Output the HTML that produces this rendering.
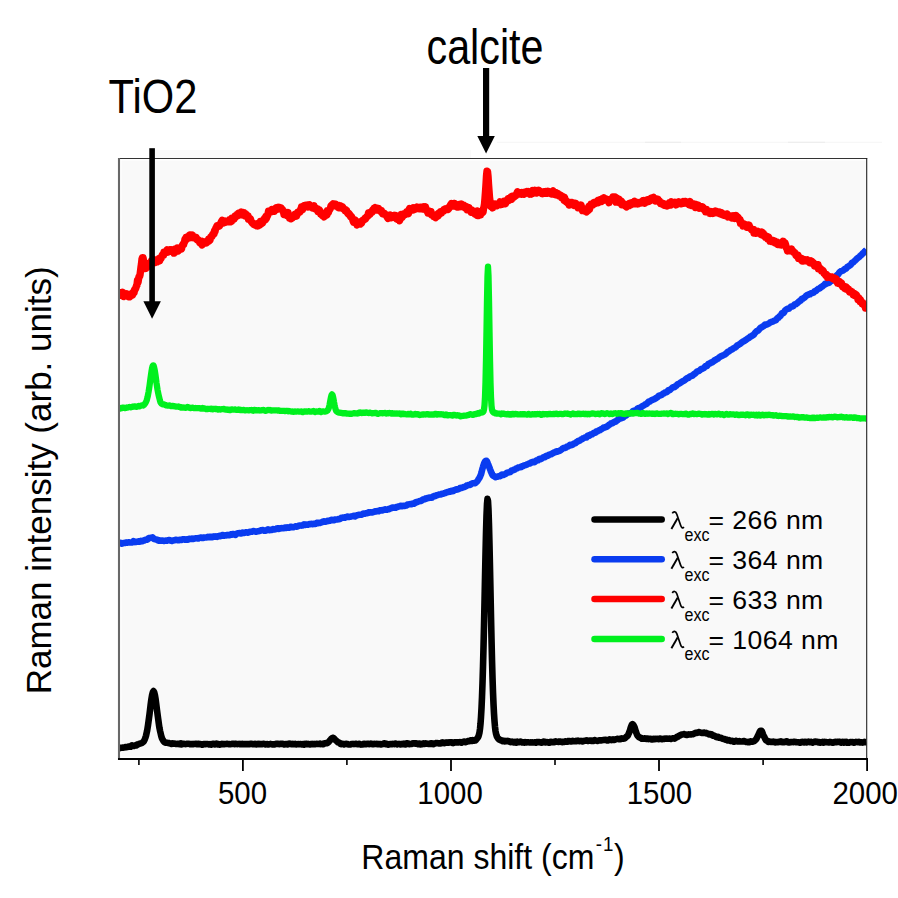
<!DOCTYPE html>
<html><head><meta charset="utf-8"><style>
html,body{margin:0;padding:0;background:#fff;width:898px;height:898px;overflow:hidden}
svg{display:block}
text{font-family:"Liberation Sans",sans-serif}
</style></head><body>
<svg width="898" height="898" viewBox="0 0 898 898">
<rect x="0" y="0" width="898" height="898" fill="#fff"/>
<rect x="155" y="150" width="316" height="8" fill="#fafafa"/>
<line x1="497" y1="142.3" x2="882" y2="142.3" stroke="#f5f5f5" stroke-width="1"/>
<line x1="645" y1="142.3" x2="681" y2="142.3" stroke="#ececec" stroke-width="1"/>
<line x1="788" y1="142.3" x2="825" y2="142.3" stroke="#ececec" stroke-width="1"/>
<defs><clipPath id="pc"><rect x="119" y="150" width="747.5" height="609"/></clipPath></defs>
<rect x="121.5" y="160.5" width="744.3" height="596" fill="#f9f9f9"/>
<g clip-path="url(#pc)">
<polyline points="119.5,748.1 120.0,748.1 120.5,747.8 121.0,747.7 121.5,747.7 122.0,747.8 122.5,747.6 123.0,747.6 123.5,747.6 124.0,747.5 124.5,747.5 125.0,747.3 125.5,747.1 126.0,747.0 126.5,747.1 127.0,747.1 127.5,747.0 128.0,746.7 128.5,746.6 129.0,746.6 129.5,746.6 130.0,746.7 130.5,746.8 131.0,746.3 131.5,745.6 132.0,745.4 132.5,745.6 133.0,745.8 133.5,745.7 134.0,746.0 134.5,745.7 135.0,745.4 135.5,745.3 136.0,745.5 136.5,745.4 137.0,744.9 137.5,744.4 138.0,744.2 138.5,744.2 139.0,744.0 139.5,743.7 140.0,743.5 140.5,743.4 141.0,743.2 141.5,743.1 142.0,742.9 142.5,742.5 143.0,742.1 143.5,741.7 144.0,741.1 144.5,739.9 145.0,738.7 145.5,737.3 146.0,735.8 146.5,733.5 147.0,731.3 147.5,728.5 148.0,725.3 148.5,721.6 149.0,718.0 149.5,714.2 150.0,710.1 150.5,705.8 151.0,701.9 151.5,698.5 152.0,695.6 152.5,693.4 153.0,691.8 153.5,691.1 154.0,691.8 154.5,693.5 155.0,695.6 155.5,698.5 156.0,702.2 156.5,706.2 157.0,710.1 157.5,713.9 158.0,717.6 158.5,721.3 159.0,725.0 159.5,728.2 160.0,730.7 160.5,732.7 161.0,734.9 161.5,736.9 162.0,738.4 162.5,739.3 163.0,740.2 163.5,741.1 164.0,741.7 164.5,742.2 165.0,742.4 165.5,742.5 166.0,742.8 166.5,742.7 167.0,742.7 167.5,742.7 168.0,742.9 168.5,743.0 169.0,743.1 169.5,743.4 170.0,743.4 170.5,743.6 171.0,743.7 171.5,743.9 172.0,743.7 172.5,743.3 173.0,743.5 173.5,743.7 174.0,743.8 174.5,743.6 175.0,743.6 175.5,743.9 176.0,743.9 176.5,743.9 177.0,743.7 177.5,743.8 178.0,743.7 178.5,743.8 179.0,744.1 179.5,744.1 180.0,743.5 180.5,743.4 181.0,744.1 181.5,744.4 182.0,743.9 182.5,743.7 183.0,743.8 183.5,743.8 184.0,743.7 184.5,743.9 185.0,744.0 185.5,744.1 186.0,744.0 186.5,743.9 187.0,743.8 187.5,743.7 188.0,743.8 188.5,743.8 189.0,743.7 189.5,743.9 190.0,744.2 190.5,744.3 191.0,744.1 191.5,744.1 192.0,744.0 192.5,744.1 193.0,744.2 193.5,744.0 194.0,744.0 194.5,744.0 195.0,744.0 195.5,743.7 196.0,743.8 196.5,744.1 197.0,744.2 197.5,744.2 198.0,743.7 198.5,743.8 199.0,744.0 199.5,744.3 200.0,744.1 200.5,744.0 201.0,744.2 201.5,744.4 202.0,744.6 202.5,744.6 203.0,744.4 203.5,744.0 204.0,744.0 204.5,744.1 205.0,744.2 205.5,744.2 206.0,744.0 206.5,744.0 207.0,744.0 207.5,744.0 208.0,744.0 208.5,744.3 209.0,744.5 209.5,744.4 210.0,744.1 210.5,744.4 211.0,744.7 211.5,744.6 212.0,744.0 212.5,743.9 213.0,743.9 213.5,743.9 214.0,743.9 214.5,744.3 215.0,744.5 215.5,744.1 216.0,743.8 216.5,743.6 217.0,744.0 217.5,744.2 218.0,744.4 218.5,744.1 219.0,744.3 219.5,744.6 220.0,744.6 220.5,744.3 221.0,744.0 221.5,744.1 222.0,743.9 222.5,744.2 223.0,744.2 223.5,744.2 224.0,744.1 224.5,744.1 225.0,744.1 225.5,744.0 226.0,744.0 226.5,743.9 227.0,743.9 227.5,743.9 228.0,744.0 228.5,744.1 229.0,744.1 229.5,744.2 230.0,744.2 230.5,744.2 231.0,744.0 231.5,744.0 232.0,743.8 232.5,743.9 233.0,743.9 233.5,743.9 234.0,743.9 234.5,744.2 235.0,744.2 235.5,743.9 236.0,743.8 236.5,744.0 237.0,744.1 237.5,744.1 238.0,744.0 238.5,744.0 239.0,743.9 239.5,744.0 240.0,744.2 240.5,744.0 241.0,744.2 241.5,744.2 242.0,744.1 242.5,743.9 243.0,744.0 243.5,744.2 244.0,744.1 244.5,744.1 245.0,744.1 245.5,744.1 246.0,744.2 246.5,744.1 247.0,744.1 247.5,744.0 248.0,744.1 248.5,744.2 249.0,744.1 249.5,744.1 250.0,743.9 250.5,743.8 251.0,743.7 251.5,743.8 252.0,743.9 252.5,744.0 253.0,744.3 253.5,744.2 254.0,744.0 254.5,744.0 255.0,743.8 255.5,744.2 256.0,744.3 256.5,744.4 257.0,744.0 257.5,744.2 258.0,744.0 258.5,743.9 259.0,744.1 259.5,744.3 260.0,744.2 260.5,744.1 261.0,744.1 261.5,744.1 262.0,744.1 262.5,744.2 263.0,743.9 263.5,743.8 264.0,743.8 264.5,744.1 265.0,744.2 265.5,744.4 266.0,744.3 266.5,744.3 267.0,744.1 267.5,744.1 268.0,744.4 268.5,744.5 269.0,744.3 269.5,744.0 270.0,744.0 270.5,743.9 271.0,744.0 271.5,744.0 272.0,744.3 272.5,744.4 273.0,744.4 273.5,744.3 274.0,744.3 274.5,744.4 275.0,744.3 275.5,744.1 276.0,743.9 276.5,743.9 277.0,743.9 277.5,743.9 278.0,743.7 278.5,744.0 279.0,744.1 279.5,744.2 280.0,743.9 280.5,743.8 281.0,743.9 281.5,743.9 282.0,743.8 282.5,743.8 283.0,743.9 283.5,744.1 284.0,744.4 284.5,744.5 285.0,744.3 285.5,744.0 286.0,744.0 286.5,744.1 287.0,744.3 287.5,744.4 288.0,744.2 288.5,744.0 289.0,743.7 289.5,744.0 290.0,743.9 290.5,743.9 291.0,743.9 291.5,744.2 292.0,744.3 292.5,744.1 293.0,743.9 293.5,744.0 294.0,744.2 294.5,744.0 295.0,743.9 295.5,744.1 296.0,744.4 296.5,744.3 297.0,744.3 297.5,744.1 298.0,744.1 298.5,744.0 299.0,744.2 299.5,744.3 300.0,744.3 300.5,744.1 301.0,744.0 301.5,744.3 302.0,744.4 302.5,744.2 303.0,744.0 303.5,744.1 304.0,744.6 304.5,744.3 305.0,744.0 305.5,743.9 306.0,744.1 306.5,743.9 307.0,743.8 307.5,744.1 308.0,744.2 308.5,744.2 309.0,744.1 309.5,744.4 310.0,744.4 310.5,744.4 311.0,744.1 311.5,744.0 312.0,743.9 312.5,744.2 313.0,744.3 313.5,744.2 314.0,744.1 314.5,744.2 315.0,744.3 315.5,744.1 316.0,743.9 316.5,743.7 317.0,743.7 317.5,743.9 318.0,744.0 318.5,744.0 319.0,743.8 319.5,743.8 320.0,743.6 320.5,744.1 321.0,744.0 321.5,744.0 322.0,744.0 322.5,744.2 323.0,744.3 323.5,744.0 324.0,743.5 324.5,743.3 325.0,743.4 325.5,743.5 326.0,743.1 326.5,743.2 327.0,743.2 327.5,743.0 328.0,742.5 328.5,742.1 329.0,741.6 329.5,740.9 330.0,740.3 330.5,739.8 331.0,739.2 331.5,738.7 332.0,738.3 332.5,737.9 333.0,737.8 333.5,737.9 334.0,738.5 334.5,738.8 335.0,739.5 335.5,740.0 336.0,740.6 336.5,740.8 337.0,741.4 337.5,742.0 338.0,742.3 338.5,742.4 339.0,742.6 339.5,742.9 340.0,743.4 340.5,743.9 341.0,744.2 341.5,744.1 342.0,743.9 342.5,743.8 343.0,743.9 343.5,744.3 344.0,744.5 344.5,744.3 345.0,744.0 345.5,743.8 346.0,743.8 346.5,743.7 347.0,743.9 347.5,744.2 348.0,744.3 348.5,744.4 349.0,744.5 349.5,744.5 350.0,744.5 350.5,744.4 351.0,744.3 351.5,744.1 352.0,744.0 352.5,744.0 353.0,743.9 353.5,744.0 354.0,744.1 354.5,744.0 355.0,743.9 355.5,743.7 356.0,743.8 356.5,743.9 357.0,744.2 357.5,744.2 358.0,744.2 358.5,744.1 359.0,743.9 359.5,743.9 360.0,744.2 360.5,744.3 361.0,744.6 361.5,744.5 362.0,744.5 362.5,744.4 363.0,744.4 363.5,744.0 364.0,743.7 364.5,743.7 365.0,744.0 365.5,744.3 366.0,744.2 366.5,744.0 367.0,744.0 367.5,743.8 368.0,743.7 368.5,743.8 369.0,743.9 369.5,744.1 370.0,744.0 370.5,743.9 371.0,743.5 371.5,743.8 372.0,743.9 372.5,744.1 373.0,744.1 373.5,744.2 374.0,744.0 374.5,743.7 375.0,743.9 375.5,744.0 376.0,743.9 376.5,743.7 377.0,744.0 377.5,744.2 378.0,744.3 378.5,744.0 379.0,744.0 379.5,744.1 380.0,744.0 380.5,744.0 381.0,744.4 381.5,744.5 382.0,744.2 382.5,744.1 383.0,744.0 383.5,743.6 384.0,743.3 384.5,743.4 385.0,743.6 385.5,743.9 386.0,744.1 386.5,743.9 387.0,743.9 387.5,744.2 388.0,744.6 388.5,744.6 389.0,744.3 389.5,744.2 390.0,744.0 390.5,744.0 391.0,744.0 391.5,744.2 392.0,744.2 392.5,744.1 393.0,743.9 393.5,744.0 394.0,744.1 394.5,743.9 395.0,743.6 395.5,743.6 396.0,743.7 396.5,744.1 397.0,744.4 397.5,744.3 398.0,744.1 398.5,744.0 399.0,743.9 399.5,744.0 400.0,744.2 400.5,744.4 401.0,744.2 401.5,744.0 402.0,743.9 402.5,744.2 403.0,744.3 403.5,744.0 404.0,743.7 404.5,744.0 405.0,744.4 405.5,744.4 406.0,744.2 406.5,743.8 407.0,743.3 407.5,743.2 408.0,743.4 408.5,743.8 409.0,744.1 409.5,744.1 410.0,744.1 410.5,744.0 411.0,743.9 411.5,743.9 412.0,743.9 412.5,743.5 413.0,743.2 413.5,743.4 414.0,743.4 414.5,743.3 415.0,743.4 415.5,743.6 416.0,743.4 416.5,743.4 417.0,743.5 417.5,743.9 418.0,744.1 418.5,743.9 419.0,743.5 419.5,743.6 420.0,744.2 420.5,744.4 421.0,744.2 421.5,744.2 422.0,744.2 422.5,744.0 423.0,743.5 423.5,743.4 424.0,743.8 424.5,743.9 425.0,743.8 425.5,743.3 426.0,743.5 426.5,743.6 427.0,743.8 427.5,743.8 428.0,743.8 428.5,743.9 429.0,744.0 429.5,744.0 430.0,743.9 430.5,743.5 431.0,743.2 431.5,743.3 432.0,743.4 432.5,743.8 433.0,744.1 433.5,744.1 434.0,743.6 434.5,743.5 435.0,743.4 435.5,743.2 436.0,743.1 436.5,743.3 437.0,743.2 437.5,743.0 438.0,743.2 438.5,743.3 439.0,743.4 439.5,743.4 440.0,743.4 440.5,743.4 441.0,743.3 441.5,743.0 442.0,742.5 442.5,742.4 443.0,742.5 443.5,742.9 444.0,743.2 444.5,743.1 445.0,742.8 445.5,742.6 446.0,742.7 446.5,742.7 447.0,742.6 447.5,742.5 448.0,742.7 448.5,742.7 449.0,742.5 449.5,742.2 450.0,742.4 450.5,742.4 451.0,742.3 451.5,742.2 452.0,742.7 452.5,743.0 453.0,743.1 453.5,742.8 454.0,742.4 454.5,742.2 455.0,742.3 455.5,742.3 456.0,742.3 456.5,742.4 457.0,742.5 457.5,742.4 458.0,742.3 458.5,742.4 459.0,742.2 459.5,742.2 460.0,742.0 460.5,742.3 461.0,742.3 461.5,742.6 462.0,742.3 462.5,742.1 463.0,742.0 463.5,741.7 464.0,741.5 464.5,741.5 465.0,742.0 465.5,742.2 466.0,742.0 466.5,742.0 467.0,741.7 467.5,741.5 468.0,741.1 468.5,741.0 469.0,741.1 469.5,741.2 470.0,740.7 470.5,740.3 471.0,740.3 471.5,740.8 472.0,740.9 472.5,740.7 473.0,740.2 473.5,740.4 474.0,740.4 474.5,740.6 475.0,740.5 475.5,740.4 476.0,739.8 476.5,739.2 477.0,738.6 477.5,738.0 478.0,737.2 478.5,736.2 479.0,734.6 479.5,732.4 480.0,728.9 480.5,723.9 481.0,717.1 481.5,708.3 482.0,697.0 482.5,683.1 483.0,666.6 483.5,647.4 484.0,625.8 484.5,602.2 485.0,577.9 485.5,554.2 486.0,532.8 486.5,515.5 487.0,503.9 487.5,498.9 488.0,501.0 488.5,510.0 489.0,525.3 489.5,545.0 490.0,567.9 490.5,591.9 491.0,616.0 491.5,638.8 492.0,659.6 492.5,677.4 493.0,692.1 493.5,704.0 494.0,713.5 494.5,721.0 495.0,726.8 495.5,731.0 496.0,733.6 496.5,735.4 497.0,736.8 497.5,737.6 498.0,738.3 498.5,738.9 499.0,739.4 499.5,739.6 500.0,739.9 500.5,740.1 501.0,740.1 501.5,740.4 502.0,740.7 502.5,741.2 503.0,741.1 503.5,740.8 504.0,740.8 504.5,741.3 505.0,741.5 505.5,741.2 506.0,741.1 506.5,741.1 507.0,741.2 507.5,741.0 508.0,741.2 508.5,741.1 509.0,741.3 509.5,741.7 510.0,742.0 510.5,742.1 511.0,741.9 511.5,741.8 512.0,741.5 512.5,741.7 513.0,742.0 513.5,742.4 514.0,742.2 514.5,742.1 515.0,741.9 515.5,742.3 516.0,742.7 516.5,742.6 517.0,742.2 517.5,741.7 518.0,741.9 518.5,742.2 519.0,742.3 519.5,742.1 520.0,741.8 520.5,741.6 521.0,741.8 521.5,742.3 522.0,742.5 522.5,742.3 523.0,742.2 523.5,742.5 524.0,742.6 524.5,742.4 525.0,742.1 525.5,742.3 526.0,742.4 526.5,742.4 527.0,742.2 527.5,742.2 528.0,742.2 528.5,742.3 529.0,742.3 529.5,742.5 530.0,742.5 530.5,742.4 531.0,742.4 531.5,742.5 532.0,742.4 532.5,742.4 533.0,742.5 533.5,742.5 534.0,742.4 534.5,742.2 535.0,742.2 535.5,742.4 536.0,742.7 536.5,742.4 537.0,742.1 537.5,742.0 538.0,742.1 538.5,742.1 539.0,742.1 539.5,742.2 540.0,742.3 540.5,742.5 541.0,742.4 541.5,742.6 542.0,742.6 542.5,742.3 543.0,742.0 543.5,741.6 544.0,741.7 544.5,741.8 545.0,742.3 545.5,742.5 546.0,742.3 546.5,742.2 547.0,742.0 547.5,742.2 548.0,742.4 548.5,742.4 549.0,742.6 549.5,742.6 550.0,742.4 550.5,741.9 551.0,742.1 551.5,742.2 552.0,742.0 552.5,742.0 553.0,742.0 553.5,742.3 554.0,742.3 554.5,742.1 555.0,741.6 555.5,741.3 556.0,741.5 556.5,741.7 557.0,741.8 557.5,741.7 558.0,741.7 558.5,741.9 559.0,741.8 559.5,741.6 560.0,741.5 560.5,741.6 561.0,741.6 561.5,741.8 562.0,742.1 562.5,742.2 563.0,741.8 563.5,741.8 564.0,741.9 564.5,741.8 565.0,741.4 565.5,741.3 566.0,741.6 566.5,741.8 567.0,741.8 567.5,741.2 568.0,741.1 568.5,741.1 569.0,741.1 569.5,741.1 570.0,741.2 570.5,741.4 571.0,741.5 571.5,741.4 572.0,741.1 572.5,740.8 573.0,741.0 573.5,741.2 574.0,741.2 574.5,741.3 575.0,741.3 575.5,741.2 576.0,740.9 576.5,741.1 577.0,741.1 577.5,741.0 578.0,740.7 578.5,741.0 579.0,741.1 579.5,741.2 580.0,741.1 580.5,741.0 581.0,740.9 581.5,741.0 582.0,741.2 582.5,741.4 583.0,741.2 583.5,741.1 584.0,740.8 584.5,740.8 585.0,740.8 585.5,740.7 586.0,740.6 586.5,740.4 587.0,740.5 587.5,740.7 588.0,741.0 588.5,740.7 589.0,740.7 589.5,740.7 590.0,740.6 590.5,740.5 591.0,740.6 591.5,740.9 592.0,741.0 592.5,741.0 593.0,741.0 593.5,740.9 594.0,740.4 594.5,740.1 595.0,740.2 595.5,740.5 596.0,740.6 596.5,740.7 597.0,740.8 597.5,740.9 598.0,740.7 598.5,740.7 599.0,740.4 599.5,740.4 600.0,740.3 600.5,740.3 601.0,740.4 601.5,740.2 602.0,740.2 602.5,740.0 603.0,740.1 603.5,740.0 604.0,739.9 604.5,740.0 605.0,739.9 605.5,739.8 606.0,739.8 606.5,740.2 607.0,740.4 607.5,740.2 608.0,740.4 608.5,740.2 609.0,739.8 609.5,739.4 610.0,739.6 610.5,739.8 611.0,740.0 611.5,740.1 612.0,740.0 612.5,739.6 613.0,739.3 613.5,739.6 614.0,739.9 614.5,740.0 615.0,739.6 615.5,739.4 616.0,739.2 616.5,739.2 617.0,738.9 617.5,738.8 618.0,738.8 618.5,739.1 619.0,739.2 619.5,739.3 620.0,739.2 620.5,739.2 621.0,738.7 621.5,738.4 622.0,738.5 622.5,738.8 623.0,738.7 623.5,738.6 624.0,738.6 624.5,738.5 625.0,738.2 625.5,737.7 626.0,737.1 626.5,736.7 627.0,736.4 627.5,735.9 628.0,735.3 628.5,734.1 629.0,733.1 629.5,731.8 630.0,730.3 630.5,728.4 631.0,726.9 631.5,725.5 632.0,724.5 632.5,724.2 633.0,724.5 633.5,725.2 634.0,726.0 634.5,727.1 635.0,728.7 635.5,730.4 636.0,732.0 636.5,733.3 637.0,734.8 637.5,735.6 638.0,736.2 638.5,736.6 639.0,737.3 639.5,737.4 640.0,737.6 640.5,737.6 641.0,738.0 641.5,738.3 642.0,738.8 642.5,738.7 643.0,738.7 643.5,738.6 644.0,738.6 644.5,738.3 645.0,738.4 645.5,738.6 646.0,738.9 646.5,738.7 647.0,738.5 647.5,738.6 648.0,739.0 648.5,739.1 649.0,738.8 649.5,738.8 650.0,738.7 650.5,738.8 651.0,738.9 651.5,739.4 652.0,739.5 652.5,739.4 653.0,739.1 653.5,738.9 654.0,738.9 654.5,739.1 655.0,739.1 655.5,738.7 656.0,738.7 656.5,738.9 657.0,739.0 657.5,738.8 658.0,738.9 658.5,739.2 659.0,739.1 659.5,738.7 660.0,738.6 660.5,738.6 661.0,739.0 661.5,739.0 662.0,739.2 662.5,739.0 663.0,738.9 663.5,738.8 664.0,738.9 664.5,738.8 665.0,738.6 665.5,738.8 666.0,738.7 666.5,738.5 667.0,738.5 667.5,738.7 668.0,738.8 668.5,738.8 669.0,738.7 669.5,738.6 670.0,738.7 670.5,738.8 671.0,738.9 671.5,738.7 672.0,738.7 672.5,738.4 673.0,738.4 673.5,738.2 674.0,738.5 674.5,738.6 675.0,738.2 675.5,737.9 676.0,737.6 676.5,737.3 677.0,736.9 677.5,736.7 678.0,736.6 678.5,736.2 679.0,735.9 679.5,735.6 680.0,735.4 680.5,735.1 681.0,734.7 681.5,734.5 682.0,734.5 682.5,734.5 683.0,734.3 683.5,734.3 684.0,734.1 684.5,734.2 685.0,734.4 685.5,734.7 686.0,734.8 686.5,734.9 687.0,735.0 687.5,735.0 688.0,734.7 688.5,734.4 689.0,734.5 689.5,734.5 690.0,734.4 690.5,734.5 691.0,734.5 691.5,734.3 692.0,734.2 692.5,734.0 693.0,734.2 693.5,734.0 694.0,733.7 694.5,733.4 695.0,733.2 695.5,732.8 696.0,732.9 696.5,733.0 697.0,733.0 697.5,732.6 698.0,732.6 698.5,732.2 699.0,732.1 699.5,732.3 700.0,732.4 700.5,732.5 701.0,732.5 701.5,732.9 702.0,732.9 702.5,732.9 703.0,732.9 703.5,733.0 704.0,732.6 704.5,732.7 705.0,732.7 705.5,732.9 706.0,732.9 706.5,733.4 707.0,733.5 707.5,733.5 708.0,733.5 708.5,733.9 709.0,734.4 709.5,734.4 710.0,734.4 710.5,734.0 711.0,734.2 711.5,734.3 712.0,735.1 712.5,735.4 713.0,735.6 713.5,735.4 714.0,735.5 714.5,735.8 715.0,736.1 715.5,736.4 716.0,736.9 716.5,737.2 717.0,737.1 717.5,736.8 718.0,736.7 718.5,737.3 719.0,737.7 719.5,737.8 720.0,737.8 720.5,737.9 721.0,737.9 721.5,738.1 722.0,738.5 722.5,738.7 723.0,738.8 723.5,738.9 724.0,739.0 724.5,739.1 725.0,739.4 725.5,739.6 726.0,739.6 726.5,739.6 727.0,739.8 727.5,740.4 728.0,740.4 728.5,740.4 729.0,740.2 729.5,740.6 730.0,740.7 730.5,741.0 731.0,741.1 731.5,741.0 732.0,740.8 732.5,740.8 733.0,741.1 733.5,741.5 734.0,741.8 734.5,741.6 735.0,741.2 735.5,740.9 736.0,740.8 736.5,740.9 737.0,741.3 737.5,741.4 738.0,741.4 738.5,741.4 739.0,741.3 739.5,741.1 740.0,741.4 740.5,741.5 741.0,741.5 741.5,741.5 742.0,741.5 742.5,741.5 743.0,741.2 743.5,741.0 744.0,741.1 744.5,741.4 745.0,741.6 745.5,741.8 746.0,741.9 746.5,741.8 747.0,741.9 747.5,742.1 748.0,742.3 748.5,742.3 749.0,742.3 749.5,742.0 750.0,741.6 750.5,741.3 751.0,741.4 751.5,741.6 752.0,741.6 752.5,741.6 753.0,741.4 753.5,741.4 754.0,741.1 754.5,740.9 755.0,740.3 755.5,739.8 756.0,739.5 756.5,738.7 757.0,737.6 757.5,736.5 758.0,735.8 758.5,734.5 759.0,733.4 759.5,732.3 760.0,731.3 760.5,730.7 761.0,730.7 761.5,730.8 762.0,731.5 762.5,732.9 763.0,734.4 763.5,735.4 764.0,736.4 764.5,737.2 765.0,738.4 765.5,739.4 766.0,740.3 766.5,740.3 767.0,740.6 767.5,741.1 768.0,741.8 768.5,741.9 769.0,741.8 769.5,741.6 770.0,741.7 770.5,741.8 771.0,741.9 771.5,741.8 772.0,742.0 772.5,741.9 773.0,741.8 773.5,741.6 774.0,741.9 774.5,742.1 775.0,742.4 775.5,742.4 776.0,742.0 776.5,742.0 777.0,742.2 777.5,742.3 778.0,742.0 778.5,741.9 779.0,741.9 779.5,742.0 780.0,742.0 780.5,741.6 781.0,741.4 781.5,741.7 782.0,742.1 782.5,742.1 783.0,742.1 783.5,742.2 784.0,742.2 784.5,742.2 785.0,741.9 785.5,741.7 786.0,741.4 786.5,741.3 787.0,741.3 787.5,741.7 788.0,742.3 788.5,742.4 789.0,742.4 789.5,742.4 790.0,742.2 790.5,742.0 791.0,742.0 791.5,742.1 792.0,742.0 792.5,742.0 793.0,742.0 793.5,742.2 794.0,741.9 794.5,741.8 795.0,741.8 795.5,742.1 796.0,742.1 796.5,742.2 797.0,742.3 797.5,742.3 798.0,742.2 798.5,742.2 799.0,742.4 799.5,742.6 800.0,742.8 800.5,742.5 801.0,742.0 801.5,742.0 802.0,742.2 802.5,742.1 803.0,741.9 803.5,742.0 804.0,742.5 804.5,742.3 805.0,742.1 805.5,741.9 806.0,742.3 806.5,742.4 807.0,742.4 807.5,742.1 808.0,741.8 808.5,741.5 809.0,741.8 809.5,742.1 810.0,742.2 810.5,742.0 811.0,741.8 811.5,741.9 812.0,742.2 812.5,742.6 813.0,742.3 813.5,742.2 814.0,742.1 814.5,741.9 815.0,741.5 815.5,741.6 816.0,741.8 816.5,741.9 817.0,741.8 817.5,741.7 818.0,742.2 818.5,742.4 819.0,742.4 819.5,742.2 820.0,742.6 820.5,742.4 821.0,742.4 821.5,742.0 822.0,742.0 822.5,741.9 823.0,742.5 823.5,742.7 824.0,742.2 824.5,741.9 825.0,742.1 825.5,742.2 826.0,742.1 826.5,742.2 827.0,742.2 827.5,742.2 828.0,742.3 828.5,742.4 829.0,742.4 829.5,742.2 830.0,741.9 830.5,742.0 831.0,742.2 831.5,742.4 832.0,742.4 832.5,742.6 833.0,742.6 833.5,742.6 834.0,742.3 834.5,742.0 835.0,741.9 835.5,741.9 836.0,742.1 836.5,742.0 837.0,742.1 837.5,741.8 838.0,741.7 838.5,741.7 839.0,742.0 839.5,741.9 840.0,741.9 840.5,742.2 841.0,742.6 841.5,742.4 842.0,742.2 842.5,741.9 843.0,742.1 843.5,742.4 844.0,742.6 844.5,742.2 845.0,741.9 845.5,742.2 846.0,742.1 846.5,741.9 847.0,742.3 847.5,742.8 848.0,742.8 848.5,742.6 849.0,742.6 849.5,742.4 850.0,742.2 850.5,742.1 851.0,742.2 851.5,742.3 852.0,742.0 852.5,742.1 853.0,742.3 853.5,742.6 854.0,742.5 854.5,742.6 855.0,742.5 855.5,742.2 856.0,741.9 856.5,742.0 857.0,742.0 857.5,742.1 858.0,742.1 858.5,742.0 859.0,741.8 859.5,742.1 860.0,742.4 860.5,742.5 861.0,742.3 861.5,742.3 862.0,742.5 862.5,742.6 863.0,742.5 863.5,742.2 864.0,742.0 864.5,741.9 865.0,742.2 865.5,742.3 866.0,742.1 866.5,741.9" fill="none" stroke="#000" stroke-width="6.6" stroke-linejoin="round" stroke-linecap="butt"/>
<polyline points="119.5,543.4 120.0,543.3 120.5,542.8 121.0,543.0 121.5,543.4 122.0,543.6 122.5,543.3 123.0,543.2 123.5,543.1 124.0,543.0 124.5,543.0 125.0,542.9 125.5,542.6 126.0,542.6 126.5,542.7 127.0,542.8 127.5,542.6 128.0,542.5 128.5,542.3 129.0,542.4 129.5,542.4 130.0,542.5 130.5,542.4 131.0,542.2 131.5,542.2 132.0,542.4 132.5,542.3 133.0,541.8 133.5,541.2 134.0,541.5 134.5,541.8 135.0,542.1 135.5,542.0 136.0,542.0 136.5,541.8 137.0,541.7 137.5,541.7 138.0,541.6 138.5,541.4 139.0,541.3 139.5,541.7 140.0,541.6 140.5,541.3 141.0,540.9 141.5,541.0 142.0,541.1 142.5,541.2 143.0,540.7 143.5,540.6 144.0,540.5 144.5,540.4 145.0,539.9 145.5,539.8 146.0,539.8 146.5,539.6 147.0,539.6 147.5,539.4 148.0,538.9 148.5,538.2 149.0,538.1 149.5,538.0 150.0,537.9 150.5,537.7 151.0,537.8 151.5,537.8 152.0,537.6 152.5,537.3 153.0,537.8 153.5,538.3 154.0,539.0 154.5,539.1 155.0,539.2 155.5,539.2 156.0,539.5 156.5,539.6 157.0,539.5 157.5,539.9 158.0,540.4 158.5,540.7 159.0,540.5 159.5,540.4 160.0,540.5 160.5,540.7 161.0,540.7 161.5,540.5 162.0,540.5 162.5,540.6 163.0,540.8 163.5,540.8 164.0,540.9 164.5,540.8 165.0,540.8 165.5,540.5 166.0,540.5 166.5,540.5 167.0,540.6 167.5,540.4 168.0,540.3 168.5,540.2 169.0,540.1 169.5,540.1 170.0,540.3 170.5,540.6 171.0,540.7 171.5,541.0 172.0,540.9 172.5,540.6 173.0,540.5 173.5,540.4 174.0,540.4 174.5,540.1 175.0,540.2 175.5,539.8 176.0,539.9 176.5,539.9 177.0,540.0 177.5,540.0 178.0,540.3 178.5,540.3 179.0,539.9 179.5,539.7 180.0,539.7 180.5,539.9 181.0,540.0 181.5,539.9 182.0,539.6 182.5,539.4 183.0,539.3 183.5,539.2 184.0,539.3 184.5,539.6 185.0,539.8 185.5,539.7 186.0,539.6 186.5,539.3 187.0,539.6 187.5,539.6 188.0,539.6 188.5,539.2 189.0,538.9 189.5,538.9 190.0,538.9 190.5,539.0 191.0,538.8 191.5,538.8 192.0,538.6 192.5,539.0 193.0,538.9 193.5,539.0 194.0,538.6 194.5,538.6 195.0,538.3 195.5,538.3 196.0,538.2 196.5,538.3 197.0,538.3 197.5,538.4 198.0,538.5 198.5,538.4 199.0,538.0 199.5,537.7 200.0,537.7 200.5,537.6 201.0,537.6 201.5,537.7 202.0,537.9 202.5,537.8 203.0,538.0 203.5,538.0 204.0,537.6 204.5,537.5 205.0,537.5 205.5,537.5 206.0,537.5 206.5,537.5 207.0,537.3 207.5,537.0 208.0,536.8 208.5,537.1 209.0,537.3 209.5,537.2 210.0,536.8 210.5,536.7 211.0,536.8 211.5,537.1 212.0,537.2 212.5,537.1 213.0,536.9 213.5,536.5 214.0,536.4 214.5,536.5 215.0,536.7 215.5,536.5 216.0,536.3 216.5,536.6 217.0,536.8 217.5,536.4 218.0,536.2 218.5,536.0 219.0,536.0 219.5,535.8 220.0,536.1 220.5,535.9 221.0,536.0 221.5,536.0 222.0,535.7 222.5,535.1 223.0,535.0 223.5,535.4 224.0,535.7 224.5,535.6 225.0,535.3 225.5,535.3 226.0,535.4 226.5,535.4 227.0,535.1 227.5,535.0 228.0,535.2 228.5,535.1 229.0,535.1 229.5,535.1 230.0,535.1 230.5,534.4 231.0,534.3 231.5,534.4 232.0,534.6 232.5,534.1 233.0,534.1 233.5,534.1 234.0,534.2 234.5,534.3 235.0,534.8 235.5,534.9 236.0,534.3 236.5,534.0 237.0,533.6 237.5,533.4 238.0,533.3 238.5,533.3 239.0,533.0 239.5,533.1 240.0,533.3 240.5,533.5 241.0,533.4 241.5,533.3 242.0,533.0 242.5,532.5 243.0,532.5 243.5,532.8 244.0,533.0 244.5,533.0 245.0,532.7 245.5,532.5 246.0,532.3 246.5,532.2 247.0,532.4 247.5,532.7 248.0,532.7 248.5,532.2 249.0,532.0 249.5,531.9 250.0,531.9 250.5,531.8 251.0,531.8 251.5,531.6 252.0,531.6 252.5,531.4 253.0,531.2 253.5,531.1 254.0,531.2 254.5,531.3 255.0,531.4 255.5,531.6 256.0,531.8 256.5,531.6 257.0,531.4 257.5,531.2 258.0,531.3 258.5,531.3 259.0,531.1 259.5,530.9 260.0,531.0 260.5,530.7 261.0,530.3 261.5,530.2 262.0,530.2 262.5,530.1 263.0,530.0 263.5,530.2 264.0,530.4 264.5,530.8 265.0,530.8 265.5,530.7 266.0,530.4 266.5,530.3 267.0,530.0 267.5,529.6 268.0,529.3 268.5,529.6 269.0,530.1 269.5,530.2 270.0,530.1 270.5,529.7 271.0,529.7 271.5,529.9 272.0,529.9 272.5,529.5 273.0,529.1 273.5,529.3 274.0,529.4 274.5,529.4 275.0,529.2 275.5,529.2 276.0,529.1 276.5,528.8 277.0,528.4 277.5,528.2 278.0,528.3 278.5,528.8 279.0,528.9 279.5,528.6 280.0,528.4 280.5,528.4 281.0,528.3 281.5,528.1 282.0,528.3 282.5,528.2 283.0,528.2 283.5,528.1 284.0,528.1 284.5,527.7 285.0,527.5 285.5,527.6 286.0,527.9 286.5,527.8 287.0,527.5 287.5,527.4 288.0,527.5 288.5,527.6 289.0,527.7 289.5,527.6 290.0,527.3 290.5,526.7 291.0,526.8 291.5,527.0 292.0,527.2 292.5,527.1 293.0,527.2 293.5,527.2 294.0,527.0 294.5,526.7 295.0,526.6 295.5,526.4 296.0,526.4 296.5,526.5 297.0,526.7 297.5,526.4 298.0,526.1 298.5,525.8 299.0,525.7 299.5,525.6 300.0,525.6 300.5,525.5 301.0,525.5 301.5,525.6 302.0,525.5 302.5,525.4 303.0,525.0 303.5,524.7 304.0,524.4 304.5,524.7 305.0,525.0 305.5,524.7 306.0,524.6 306.5,524.5 307.0,524.8 307.5,524.8 308.0,524.7 308.5,524.4 309.0,524.2 309.5,524.1 310.0,524.2 310.5,524.1 311.0,523.9 311.5,523.8 312.0,524.1 312.5,524.3 313.0,524.1 313.5,523.8 314.0,523.7 314.5,523.8 315.0,523.9 315.5,523.8 316.0,523.5 316.5,523.0 317.0,522.8 317.5,522.7 318.0,522.8 318.5,523.1 319.0,523.0 319.5,522.9 320.0,522.9 320.5,522.7 321.0,522.4 321.5,522.3 322.0,522.2 322.5,521.8 323.0,521.6 323.5,521.8 324.0,521.6 324.5,521.4 325.0,521.5 325.5,521.7 326.0,521.5 326.5,521.3 327.0,521.1 327.5,520.9 328.0,521.1 328.5,521.0 329.0,520.8 329.5,520.6 330.0,520.6 330.5,520.4 331.0,520.1 331.5,519.9 332.0,519.9 332.5,520.1 333.0,520.0 333.5,520.2 334.0,520.2 334.5,520.1 335.0,519.6 335.5,519.5 336.0,519.5 336.5,519.5 337.0,519.5 337.5,519.5 338.0,519.3 338.5,519.0 339.0,518.8 339.5,519.1 340.0,519.0 340.5,518.7 341.0,518.0 341.5,517.7 342.0,517.7 342.5,517.7 343.0,517.6 343.5,517.5 344.0,517.5 344.5,517.8 345.0,517.7 345.5,517.4 346.0,517.0 346.5,516.9 347.0,516.7 347.5,516.6 348.0,516.8 348.5,516.9 349.0,516.9 349.5,516.7 350.0,516.7 350.5,516.7 351.0,516.5 351.5,516.3 352.0,516.3 352.5,516.2 353.0,516.2 353.5,515.8 354.0,515.8 354.5,515.9 355.0,516.3 355.5,516.0 356.0,515.9 356.5,515.4 357.0,515.3 357.5,515.3 358.0,515.1 358.5,514.9 359.0,514.8 359.5,514.8 360.0,514.8 360.5,514.8 361.0,514.8 361.5,514.7 362.0,514.4 362.5,514.0 363.0,513.7 363.5,513.6 364.0,513.8 364.5,513.8 365.0,513.5 365.5,513.4 366.0,513.3 366.5,513.2 367.0,513.0 367.5,513.1 368.0,512.8 368.5,512.4 369.0,512.4 369.5,512.6 370.0,512.5 370.5,512.3 371.0,512.4 371.5,512.5 372.0,512.5 372.5,512.3 373.0,512.2 373.5,512.0 374.0,511.8 374.5,511.7 375.0,511.3 375.5,511.4 376.0,511.4 376.5,511.3 377.0,511.0 377.5,511.1 378.0,511.3 378.5,511.3 379.0,510.8 379.5,510.4 380.0,510.3 380.5,510.4 381.0,510.4 381.5,510.3 382.0,510.4 382.5,510.3 383.0,509.9 383.5,509.7 384.0,509.7 384.5,509.7 385.0,509.4 385.5,509.4 386.0,509.5 386.5,509.8 387.0,509.7 387.5,509.5 388.0,509.2 388.5,509.1 389.0,509.1 389.5,508.9 390.0,508.6 390.5,508.4 391.0,508.2 391.5,508.1 392.0,507.7 392.5,507.6 393.0,507.6 393.5,507.6 394.0,507.5 394.5,507.6 395.0,507.8 395.5,507.8 396.0,507.4 396.5,507.0 397.0,506.9 397.5,507.0 398.0,506.8 398.5,506.6 399.0,506.4 399.5,506.3 400.0,506.0 400.5,505.8 401.0,505.9 401.5,506.2 402.0,506.2 402.5,506.0 403.0,505.8 403.5,505.8 404.0,506.0 404.5,505.9 405.0,505.7 405.5,505.5 406.0,505.6 406.5,505.5 407.0,505.1 407.5,504.6 408.0,504.4 408.5,504.2 409.0,504.3 409.5,504.2 410.0,504.2 410.5,504.1 411.0,504.1 411.5,504.1 412.0,503.9 412.5,503.5 413.0,503.5 413.5,503.8 414.0,503.7 414.5,503.3 415.0,502.8 415.5,502.3 416.0,502.0 416.5,502.3 417.0,502.2 417.5,501.9 418.0,501.7 418.5,501.5 419.0,501.3 419.5,501.1 420.0,501.1 420.5,500.8 421.0,500.9 421.5,500.7 422.0,500.3 422.5,499.7 423.0,499.6 423.5,499.2 424.0,499.3 424.5,499.3 425.0,499.0 425.5,498.5 426.0,498.4 426.5,498.6 427.0,498.3 427.5,498.0 428.0,497.9 428.5,498.0 429.0,498.0 429.5,497.5 430.0,497.5 430.5,497.5 431.0,497.7 431.5,497.8 432.0,497.6 432.5,496.9 433.0,496.5 433.5,496.4 434.0,496.3 434.5,495.9 435.0,496.0 435.5,495.9 436.0,495.6 436.5,495.2 437.0,495.0 437.5,495.0 438.0,494.9 438.5,494.7 439.0,494.6 439.5,494.5 440.0,494.5 440.5,494.5 441.0,494.5 441.5,494.0 442.0,493.7 442.5,493.8 443.0,493.8 443.5,493.6 444.0,493.3 444.5,493.2 445.0,493.1 445.5,492.9 446.0,492.6 446.5,492.4 447.0,492.2 447.5,492.1 448.0,492.1 448.5,492.0 449.0,491.8 449.5,491.4 450.0,491.5 450.5,491.7 451.0,491.4 451.5,490.8 452.0,490.8 452.5,491.2 453.0,491.1 453.5,490.8 454.0,490.3 454.5,490.0 455.0,489.9 455.5,489.7 456.0,489.4 456.5,489.3 457.0,489.6 457.5,489.5 458.0,489.2 458.5,489.1 459.0,489.0 459.5,488.5 460.0,488.0 460.5,487.9 461.0,488.1 461.5,488.0 462.0,487.7 462.5,487.6 463.0,487.5 463.5,487.3 464.0,486.9 464.5,486.9 465.0,486.7 465.5,486.5 466.0,486.2 466.5,485.8 467.0,485.4 467.5,485.2 468.0,485.2 468.5,485.1 469.0,484.8 469.5,484.8 470.0,485.0 470.5,484.6 471.0,484.1 471.5,483.7 472.0,483.5 472.5,483.3 473.0,483.3 473.5,483.3 474.0,483.0 474.5,483.0 475.0,483.1 475.5,482.9 476.0,482.5 476.5,482.0 477.0,481.5 477.5,480.8 478.0,480.1 478.5,479.3 479.0,478.5 479.5,477.7 480.0,476.7 480.5,475.5 481.0,474.3 481.5,472.5 482.0,470.5 482.5,468.5 483.0,467.0 483.5,465.2 484.0,463.7 484.5,462.5 485.0,461.7 485.5,461.0 486.0,460.8 486.5,460.8 487.0,461.5 487.5,462.6 488.0,463.9 488.5,465.1 489.0,466.5 489.5,467.7 490.0,469.1 490.5,470.4 491.0,471.8 491.5,472.8 492.0,474.1 492.5,475.1 493.0,475.7 493.5,475.9 494.0,476.0 494.5,476.4 495.0,477.0 495.5,477.2 496.0,477.0 496.5,476.8 497.0,476.8 497.5,476.7 498.0,476.4 498.5,476.3 499.0,476.3 499.5,476.3 500.0,476.2 500.5,476.1 501.0,475.4 501.5,474.7 502.0,474.5 502.5,474.7 503.0,475.0 503.5,474.9 504.0,474.6 504.5,474.2 505.0,474.2 505.5,474.0 506.0,473.7 506.5,473.2 507.0,472.8 507.5,472.7 508.0,472.6 508.5,472.5 509.0,472.3 509.5,472.3 510.0,472.1 510.5,471.9 511.0,471.2 511.5,470.6 512.0,470.3 512.5,470.5 513.0,470.3 513.5,470.0 514.0,469.6 514.5,469.7 515.0,469.5 515.5,469.0 516.0,468.6 516.5,468.4 517.0,468.3 517.5,468.0 518.0,467.8 518.5,467.4 519.0,467.2 519.5,467.2 520.0,467.1 520.5,467.3 521.0,467.1 521.5,466.8 522.0,466.3 522.5,466.1 523.0,466.1 523.5,465.7 524.0,465.5 524.5,465.2 525.0,465.2 525.5,465.0 526.0,465.0 526.5,464.8 527.0,464.5 527.5,464.2 528.0,464.0 528.5,463.8 529.0,463.6 529.5,463.5 530.0,463.4 530.5,463.2 531.0,462.7 531.5,462.4 532.0,462.0 532.5,462.0 533.0,461.8 533.5,461.9 534.0,462.1 534.5,462.1 535.0,461.7 535.5,461.3 536.0,461.0 536.5,460.4 537.0,460.2 537.5,460.3 538.0,460.3 538.5,459.7 539.0,459.1 539.5,458.8 540.0,459.0 540.5,459.1 541.0,458.9 541.5,458.6 542.0,458.4 542.5,458.0 543.0,457.6 543.5,457.2 544.0,457.0 544.5,456.9 545.0,457.1 545.5,456.6 546.0,456.1 546.5,455.9 547.0,456.0 547.5,456.0 548.0,455.6 548.5,455.3 549.0,454.8 549.5,454.7 550.0,454.4 550.5,454.3 551.0,454.3 551.5,454.2 552.0,453.7 552.5,453.3 553.0,453.2 553.5,453.0 554.0,452.5 554.5,452.2 555.0,452.3 555.5,452.1 556.0,451.6 556.5,451.3 557.0,451.3 557.5,451.6 558.0,451.2 558.5,451.2 559.0,451.0 559.5,451.0 560.0,450.6 560.5,450.2 561.0,450.0 561.5,449.5 562.0,449.2 562.5,448.7 563.0,448.3 563.5,448.0 564.0,447.9 564.5,447.9 565.0,448.0 565.5,447.8 566.0,447.5 566.5,447.1 567.0,446.7 567.5,446.4 568.0,446.3 568.5,446.2 569.0,445.8 569.5,445.3 570.0,444.9 570.5,444.9 571.0,445.2 571.5,445.1 572.0,445.0 572.5,444.6 573.0,444.3 573.5,443.9 574.0,443.6 574.5,443.3 575.0,443.5 575.5,443.2 576.0,442.6 576.5,442.1 577.0,441.8 577.5,441.6 578.0,441.1 578.5,440.9 579.0,440.8 579.5,440.7 580.0,440.5 580.5,440.0 581.0,439.6 581.5,439.5 582.0,439.2 582.5,438.9 583.0,438.4 583.5,438.2 584.0,438.0 584.5,437.8 585.0,437.5 585.5,437.3 586.0,437.5 586.5,437.5 587.0,436.7 587.5,435.9 588.0,435.5 588.5,435.7 589.0,435.8 589.5,435.7 590.0,435.1 590.5,434.5 591.0,434.3 591.5,434.4 592.0,434.3 592.5,433.9 593.0,433.6 593.5,433.1 594.0,432.8 594.5,432.5 595.0,432.8 595.5,432.6 596.0,431.9 596.5,431.4 597.0,431.2 597.5,431.3 598.0,431.0 598.5,430.6 599.0,430.3 599.5,430.2 600.0,430.2 600.5,429.6 601.0,429.4 601.5,429.1 602.0,429.0 602.5,428.5 603.0,428.0 603.5,427.5 604.0,427.5 604.5,427.6 605.0,427.5 605.5,427.2 606.0,426.9 606.5,427.0 607.0,426.6 607.5,426.2 608.0,425.6 608.5,425.4 609.0,424.9 609.5,424.7 610.0,424.3 610.5,423.9 611.0,423.4 611.5,423.2 612.0,423.1 612.5,423.1 613.0,422.9 613.5,422.5 614.0,422.1 614.5,421.9 615.0,421.5 615.5,421.6 616.0,421.4 616.5,420.9 617.0,420.2 617.5,420.1 618.0,419.8 618.5,419.5 619.0,419.0 619.5,418.6 620.0,418.3 620.5,418.3 621.0,418.4 621.5,418.1 622.0,417.7 622.5,417.5 623.0,417.6 623.5,417.2 624.0,416.7 624.5,416.2 625.0,416.0 625.5,415.8 626.0,415.5 626.5,415.1 627.0,414.6 627.5,414.2 628.0,413.9 628.5,413.6 629.0,413.4 629.5,413.4 630.0,413.4 630.5,413.1 631.0,412.7 631.5,412.5 632.0,412.3 632.5,411.8 633.0,411.0 633.5,410.8 634.0,411.0 634.5,411.0 635.0,410.4 635.5,410.2 636.0,410.1 636.5,409.9 637.0,409.4 637.5,408.6 638.0,408.4 638.5,408.0 639.0,407.9 639.5,407.7 640.0,407.7 640.5,407.5 641.0,407.1 641.5,406.8 642.0,406.4 642.5,406.2 643.0,405.8 643.5,405.5 644.0,405.3 644.5,405.0 645.0,404.5 645.5,404.2 646.0,404.2 646.5,404.0 647.0,403.6 647.5,402.8 648.0,402.3 648.5,401.8 649.0,401.7 649.5,401.6 650.0,401.4 650.5,400.9 651.0,400.5 651.5,400.3 652.0,400.0 652.5,399.8 653.0,399.7 653.5,399.5 654.0,399.3 654.5,398.9 655.0,398.8 655.5,398.3 656.0,398.1 656.5,397.7 657.0,397.5 657.5,397.2 658.0,396.7 658.5,396.1 659.0,395.7 659.5,395.6 660.0,395.5 660.5,395.3 661.0,395.2 661.5,394.9 662.0,394.6 662.5,394.2 663.0,393.8 663.5,393.4 664.0,393.4 664.5,393.0 665.0,392.6 665.5,392.2 666.0,392.3 666.5,392.2 667.0,391.9 667.5,391.3 668.0,390.7 668.5,390.2 669.0,390.1 669.5,390.2 670.0,390.0 670.5,389.5 671.0,389.0 671.5,388.5 672.0,388.0 672.5,387.5 673.0,387.3 673.5,387.1 674.0,387.1 674.5,387.1 675.0,386.7 675.5,386.2 676.0,385.8 676.5,385.6 677.0,384.9 677.5,384.2 678.0,384.0 678.5,384.0 679.0,383.7 679.5,383.5 680.0,383.1 680.5,382.6 681.0,382.3 681.5,382.2 682.0,381.7 682.5,381.3 683.0,381.0 683.5,380.9 684.0,380.7 684.5,380.3 685.0,379.9 685.5,379.4 686.0,379.1 686.5,378.5 687.0,378.2 687.5,378.1 688.0,378.1 688.5,377.8 689.0,377.2 689.5,376.8 690.0,376.6 690.5,376.2 691.0,376.1 691.5,375.8 692.0,375.9 692.5,375.6 693.0,375.1 693.5,374.6 694.0,374.2 694.5,373.9 695.0,373.6 695.5,373.2 696.0,372.7 696.5,372.2 697.0,371.7 697.5,371.4 698.0,371.2 698.5,371.2 699.0,370.9 699.5,370.5 700.0,370.2 700.5,369.6 701.0,369.2 701.5,368.8 702.0,368.8 702.5,368.7 703.0,368.5 703.5,368.1 704.0,367.8 704.5,367.2 705.0,366.8 705.5,366.1 706.0,366.1 706.5,366.1 707.0,366.0 707.5,365.2 708.0,364.4 708.5,363.9 709.0,363.7 709.5,363.7 710.0,363.4 710.5,362.9 711.0,362.6 711.5,362.5 712.0,362.4 712.5,362.2 713.0,361.7 713.5,361.3 714.0,360.8 714.5,360.3 715.0,360.1 715.5,360.2 716.0,359.6 716.5,359.3 717.0,358.9 717.5,358.8 718.0,358.6 718.5,358.2 719.0,357.5 719.5,357.2 720.0,357.0 720.5,356.6 721.0,356.2 721.5,356.1 722.0,356.0 722.5,355.7 723.0,355.3 723.5,355.0 724.0,355.0 724.5,354.7 725.0,354.4 725.5,354.0 726.0,353.7 726.5,353.1 727.0,352.6 727.5,352.1 728.0,351.7 728.5,351.6 729.0,351.5 729.5,351.0 730.0,350.5 730.5,350.0 731.0,349.8 731.5,349.7 732.0,349.4 732.5,349.1 733.0,348.6 733.5,348.3 734.0,348.0 734.5,347.8 735.0,347.6 735.5,347.2 736.0,346.8 736.5,346.3 737.0,345.7 737.5,345.2 738.0,345.0 738.5,345.0 739.0,344.5 739.5,344.2 740.0,344.0 740.5,343.7 741.0,343.0 741.5,342.6 742.0,342.3 742.5,341.9 743.0,341.5 743.5,341.4 744.0,341.1 744.5,340.9 745.0,340.4 745.5,340.0 746.0,339.9 746.5,339.5 747.0,339.1 747.5,338.5 748.0,338.3 748.5,338.1 749.0,337.8 749.5,337.6 750.0,336.8 750.5,336.4 751.0,336.3 751.5,336.2 752.0,335.8 752.5,335.4 753.0,335.2 753.5,334.9 754.0,334.4 754.5,333.6 755.0,332.9 755.5,332.3 756.0,331.8 756.5,331.3 757.0,330.9 757.5,330.8 758.0,330.6 758.5,330.1 759.0,329.6 759.5,328.9 760.0,328.3 760.5,327.8 761.0,327.7 761.5,327.5 762.0,327.1 762.5,326.7 763.0,326.4 763.5,326.2 764.0,325.8 764.5,325.1 765.0,324.6 765.5,324.6 766.0,324.7 766.5,324.6 767.0,324.4 767.5,324.2 768.0,324.0 768.5,323.6 769.0,323.4 769.5,323.0 770.0,322.7 770.5,322.2 771.0,322.1 771.5,321.8 772.0,321.8 772.5,321.5 773.0,321.4 773.5,321.0 774.0,320.8 774.5,320.7 775.0,320.5 775.5,320.5 776.0,320.1 776.5,319.5 777.0,318.5 777.5,318.1 778.0,318.0 778.5,317.8 779.0,317.1 779.5,316.3 780.0,316.1 780.5,315.8 781.0,315.1 781.5,314.1 782.0,313.2 782.5,313.1 783.0,313.1 783.5,313.1 784.0,312.4 784.5,311.4 785.0,310.5 785.5,310.0 786.0,309.7 786.5,309.5 787.0,309.0 787.5,308.8 788.0,308.7 788.5,308.8 789.0,308.6 789.5,308.2 790.0,307.5 790.5,307.0 791.0,306.5 791.5,306.5 792.0,306.6 792.5,306.5 793.0,306.2 793.5,305.8 794.0,305.2 794.5,304.7 795.0,304.2 795.5,304.2 796.0,304.1 796.5,303.7 797.0,303.3 797.5,302.9 798.0,302.6 798.5,301.9 799.0,301.6 799.5,301.1 800.0,300.8 800.5,300.6 801.0,300.1 801.5,299.2 802.0,298.8 802.5,298.7 803.0,298.7 803.5,298.1 804.0,297.8 804.5,297.7 805.0,297.2 805.5,296.5 806.0,295.9 806.5,295.5 807.0,295.1 807.5,295.1 808.0,294.9 808.5,294.4 809.0,294.3 809.5,294.3 810.0,294.3 810.5,293.7 811.0,293.3 811.5,293.0 812.0,293.0 812.5,292.9 813.0,292.8 813.5,292.6 814.0,292.1 814.5,291.4 815.0,291.0 815.5,291.1 816.0,290.8 816.5,290.3 817.0,289.8 817.5,289.5 818.0,289.0 818.5,288.7 819.0,288.6 819.5,288.4 820.0,288.1 820.5,287.6 821.0,287.0 821.5,286.8 822.0,286.6 822.5,286.4 823.0,285.7 823.5,285.5 824.0,285.0 824.5,284.5 825.0,283.9 825.5,284.2 826.0,283.9 826.5,283.6 827.0,283.3 827.5,283.2 828.0,283.0 828.5,282.9 829.0,282.8 829.5,282.3 830.0,281.4 830.5,281.2 831.0,281.1 831.5,280.8 832.0,280.2 832.5,280.3 833.0,280.1 833.5,279.3 834.0,278.8 834.5,278.5 835.0,278.1 835.5,277.4 836.0,276.5 836.5,275.7 837.0,275.1 837.5,275.2 838.0,274.6 838.5,273.9 839.0,272.9 839.5,272.3 840.0,271.8 840.5,271.5 841.0,271.0 841.5,271.1 842.0,271.0 842.5,270.8 843.0,270.4 843.5,270.2 844.0,269.8 844.5,269.1 845.0,268.8 845.5,268.5 846.0,268.6 846.5,268.1 847.0,267.4 847.5,266.7 848.0,266.6 848.5,266.5 849.0,266.0 849.5,265.5 850.0,265.3 850.5,264.9 851.0,264.4 851.5,263.6 852.0,262.8 852.5,262.6 853.0,262.5 853.5,262.1 854.0,261.5 854.5,261.0 855.0,260.7 855.5,260.1 856.0,259.7 856.5,259.2 857.0,258.7 857.5,258.1 858.0,257.9 858.5,257.5 859.0,257.1 859.5,256.7 860.0,256.2 860.5,255.6 861.0,255.0 861.5,254.9 862.0,254.3 862.5,253.7 863.0,253.2 863.5,252.9 864.0,252.3 864.5,251.7 865.0,251.3 865.5,250.7 866.0,250.3 866.5,249.8" fill="none" stroke="#0a3cf0" stroke-width="6.6" stroke-linejoin="round" stroke-linecap="butt"/>
<polyline points="119.5,297.0 120.0,292.6 120.5,295.2 121.0,294.1 121.5,294.0 122.0,294.1 122.5,292.3 123.0,293.7 123.5,293.0 124.0,296.6 124.5,294.0 125.0,293.7 125.5,294.0 126.0,293.9 126.5,293.8 127.0,294.7 127.5,295.7 128.0,295.3 128.5,296.6 129.0,295.8 129.5,295.6 130.0,296.6 130.5,295.2 131.0,293.9 131.5,293.8 132.0,294.0 132.5,294.9 133.0,292.5 133.5,292.1 134.0,292.8 134.5,289.9 135.0,289.2 135.5,289.0 136.0,287.4 136.5,285.7 137.0,285.0 137.5,280.5 138.0,282.4 138.5,279.1 139.0,276.8 139.5,276.8 140.0,275.0 140.5,271.1 141.0,267.1 141.5,263.8 142.0,259.2 142.5,257.6 143.0,257.6 143.5,260.3 144.0,264.7 144.5,266.1 145.0,266.7 145.5,268.4 146.0,268.3 146.5,267.2 147.0,266.3 147.5,266.8 148.0,263.9 148.5,266.3 149.0,265.6 149.5,263.3 150.0,264.3 150.5,262.9 151.0,264.0 151.5,261.0 152.0,261.5 152.5,262.6 153.0,262.8 153.5,259.7 154.0,261.1 154.5,261.7 155.0,260.7 155.5,262.5 156.0,259.9 156.5,261.2 157.0,259.8 157.5,261.8 158.0,260.4 158.5,260.0 159.0,258.6 159.5,261.0 160.0,259.5 160.5,258.8 161.0,258.5 161.5,257.1 162.0,255.6 162.5,254.8 163.0,254.1 163.5,255.4 164.0,252.2 164.5,252.6 165.0,252.5 165.5,252.7 166.0,252.7 166.5,250.7 167.0,250.0 167.5,251.2 168.0,251.9 168.5,251.2 169.0,250.4 169.5,250.0 170.0,250.6 170.5,250.1 171.0,251.2 171.5,249.8 172.0,250.7 172.5,250.5 173.0,251.2 173.5,250.9 174.0,253.1 174.5,252.2 175.0,252.2 175.5,249.1 176.0,250.6 176.5,250.1 177.0,250.9 177.5,248.1 178.0,251.0 178.5,250.6 179.0,248.2 179.5,248.3 180.0,248.2 180.5,248.7 181.0,248.7 181.5,248.9 182.0,245.9 182.5,245.8 183.0,244.2 183.5,244.7 184.0,242.8 184.5,242.3 185.0,239.1 185.5,238.9 186.0,237.6 186.5,239.4 187.0,238.3 187.5,237.1 188.0,236.6 188.5,237.2 189.0,235.8 189.5,235.2 190.0,236.2 190.5,237.6 191.0,235.1 191.5,235.2 192.0,234.9 192.5,235.1 193.0,237.1 193.5,237.7 194.0,237.3 194.5,237.9 195.0,238.1 195.5,238.4 196.0,237.3 196.5,238.7 197.0,239.6 197.5,239.2 198.0,239.9 198.5,240.0 199.0,240.9 199.5,242.4 200.0,241.7 200.5,242.3 201.0,243.6 201.5,243.9 202.0,244.9 202.5,241.3 203.0,243.7 203.5,242.3 204.0,242.6 204.5,243.0 205.0,243.1 205.5,242.8 206.0,241.8 206.5,242.9 207.0,241.0 207.5,240.9 208.0,241.1 208.5,239.3 209.0,241.2 209.5,239.6 210.0,240.1 210.5,237.5 211.0,236.6 211.5,236.5 212.0,236.4 212.5,234.7 213.0,234.6 213.5,233.3 214.0,233.9 214.5,230.9 215.0,231.5 215.5,229.1 216.0,227.9 216.5,227.2 217.0,225.8 217.5,226.1 218.0,226.5 218.5,225.3 219.0,225.3 219.5,225.8 220.0,224.2 220.5,223.7 221.0,222.9 221.5,221.3 222.0,223.0 222.5,220.3 223.0,222.4 223.5,221.8 224.0,222.8 224.5,221.7 225.0,221.1 225.5,222.1 226.0,221.3 226.5,221.6 227.0,221.8 227.5,221.7 228.0,221.6 228.5,221.0 229.0,221.6 229.5,219.7 230.0,221.1 230.5,219.9 231.0,221.6 231.5,221.4 232.0,218.2 232.5,219.8 233.0,219.2 233.5,218.0 234.0,219.1 234.5,217.8 235.0,216.1 235.5,217.0 236.0,216.6 236.5,216.3 237.0,214.6 237.5,215.8 238.0,215.4 238.5,213.2 239.0,213.1 239.5,213.3 240.0,212.8 240.5,214.8 241.0,213.3 241.5,212.1 242.0,212.3 242.5,212.8 243.0,214.9 243.5,212.6 244.0,212.8 244.5,213.3 245.0,213.4 245.5,216.1 246.0,214.1 246.5,215.9 247.0,215.9 247.5,216.9 248.0,215.9 248.5,219.1 249.0,218.0 249.5,218.8 250.0,218.5 250.5,219.2 251.0,221.0 251.5,221.9 252.0,222.3 252.5,223.3 253.0,223.4 253.5,223.4 254.0,224.7 254.5,224.8 255.0,224.2 255.5,225.0 256.0,225.5 256.5,224.5 257.0,224.0 257.5,224.9 258.0,226.0 258.5,224.1 259.0,224.2 259.5,224.0 260.0,224.8 260.5,221.6 261.0,223.2 261.5,223.5 262.0,221.3 262.5,223.0 263.0,221.7 263.5,220.3 264.0,220.5 264.5,218.4 265.0,218.5 265.5,219.8 266.0,216.5 266.5,218.2 267.0,215.7 267.5,215.8 268.0,214.2 268.5,211.3 269.0,212.0 269.5,212.4 270.0,211.0 270.5,210.6 271.0,211.9 271.5,210.7 272.0,209.5 272.5,210.2 273.0,211.4 273.5,209.9 274.0,210.9 274.5,211.2 275.0,209.6 275.5,208.3 276.0,207.9 276.5,208.8 277.0,209.4 277.5,208.6 278.0,208.6 278.5,207.4 279.0,207.9 279.5,207.6 280.0,208.1 280.5,207.7 281.0,207.9 281.5,209.3 282.0,209.1 282.5,209.7 283.0,211.6 283.5,211.3 284.0,214.4 284.5,213.1 285.0,212.1 285.5,213.8 286.0,213.9 286.5,213.3 287.0,215.4 287.5,214.1 288.0,212.5 288.5,216.4 289.0,215.6 289.5,217.9 290.0,216.4 290.5,216.4 291.0,218.8 291.5,216.1 292.0,217.0 292.5,217.8 293.0,216.3 293.5,215.8 294.0,215.6 294.5,216.0 295.0,214.2 295.5,215.1 296.0,214.8 296.5,216.1 297.0,213.3 297.5,212.5 298.0,213.5 298.5,212.0 299.0,212.1 299.5,211.4 300.0,211.9 300.5,209.8 301.0,209.8 301.5,207.1 302.0,208.1 302.5,209.8 303.0,207.3 303.5,206.8 304.0,205.8 304.5,207.2 305.0,206.7 305.5,205.3 306.0,206.8 306.5,206.2 307.0,206.5 307.5,205.1 308.0,207.0 308.5,205.7 309.0,205.0 309.5,204.8 310.0,205.3 310.5,206.6 311.0,205.8 311.5,207.3 312.0,207.1 312.5,208.0 313.0,207.8 313.5,207.2 314.0,205.8 314.5,208.1 315.0,208.9 315.5,208.7 316.0,209.4 316.5,208.8 317.0,209.2 317.5,209.1 318.0,211.5 318.5,210.7 319.0,210.5 319.5,210.2 320.0,211.8 320.5,213.7 321.0,213.3 321.5,212.7 322.0,215.2 322.5,215.7 323.0,215.8 323.5,216.1 324.0,216.9 324.5,216.1 325.0,215.8 325.5,213.9 326.0,215.4 326.5,213.8 327.0,214.9 327.5,210.8 328.0,212.7 328.5,212.3 329.0,210.1 329.5,209.8 330.0,209.1 330.5,207.9 331.0,205.9 331.5,205.3 332.0,205.3 332.5,204.5 333.0,203.8 333.5,204.1 334.0,204.6 334.5,205.7 335.0,204.1 335.5,204.2 336.0,205.9 336.5,205.1 337.0,205.9 337.5,206.9 338.0,207.3 338.5,206.0 339.0,207.8 339.5,205.5 340.0,207.7 340.5,205.9 341.0,206.2 341.5,208.0 342.0,207.2 342.5,206.9 343.0,207.6 343.5,208.9 344.0,208.8 344.5,209.3 345.0,210.6 345.5,209.5 346.0,210.1 346.5,210.5 347.0,212.4 347.5,212.7 348.0,213.6 348.5,213.1 349.0,213.7 349.5,215.2 350.0,214.8 350.5,216.6 351.0,217.1 351.5,216.5 352.0,217.8 352.5,218.4 353.0,220.7 353.5,222.2 354.0,220.5 354.5,221.3 355.0,219.9 355.5,222.8 356.0,223.3 356.5,223.1 357.0,224.9 357.5,222.6 358.0,223.7 358.5,223.8 359.0,222.4 359.5,224.1 360.0,224.1 360.5,221.8 361.0,221.6 361.5,223.2 362.0,222.2 362.5,220.4 363.0,220.5 363.5,220.0 364.0,219.3 364.5,219.5 365.0,218.4 365.5,218.9 366.0,217.9 366.5,216.8 367.0,216.7 367.5,216.4 368.0,215.3 368.5,213.1 369.0,214.5 369.5,213.3 370.0,214.2 370.5,212.3 371.0,212.2 371.5,211.5 372.0,212.2 372.5,210.4 373.0,209.5 373.5,209.5 374.0,208.3 374.5,208.3 375.0,207.7 375.5,208.1 376.0,209.9 376.5,208.1 377.0,208.7 377.5,208.8 378.0,209.9 378.5,208.5 379.0,209.3 379.5,210.1 380.0,211.0 380.5,210.7 381.0,210.6 381.5,210.7 382.0,212.4 382.5,213.7 383.0,213.1 383.5,213.4 384.0,214.1 384.5,213.3 385.0,214.3 385.5,214.7 386.0,215.7 386.5,215.8 387.0,215.2 387.5,217.7 388.0,218.3 388.5,216.5 389.0,217.0 389.5,216.8 390.0,217.2 390.5,215.1 391.0,217.8 391.5,215.9 392.0,217.4 392.5,216.3 393.0,215.8 393.5,216.0 394.0,216.8 394.5,215.4 395.0,216.1 395.5,216.4 396.0,215.6 396.5,218.6 397.0,218.3 397.5,218.1 398.0,219.5 398.5,217.9 399.0,219.0 399.5,220.6 400.0,219.5 400.5,216.1 401.0,214.6 401.5,216.2 402.0,217.6 402.5,215.7 403.0,215.4 403.5,215.6 404.0,213.8 404.5,214.3 405.0,214.5 405.5,213.8 406.0,213.4 406.5,212.1 407.0,212.7 407.5,211.5 408.0,212.7 408.5,213.5 409.0,210.1 409.5,208.5 410.0,209.7 410.5,210.0 411.0,210.2 411.5,210.2 412.0,208.4 412.5,208.3 413.0,210.0 413.5,207.8 414.0,209.6 414.5,208.3 415.0,209.1 415.5,209.0 416.0,208.9 416.5,208.9 417.0,207.1 417.5,208.2 418.0,207.8 418.5,208.0 419.0,208.7 419.5,207.4 420.0,207.1 420.5,207.1 421.0,207.6 421.5,208.6 422.0,207.2 422.5,209.1 423.0,208.3 423.5,207.9 424.0,207.0 424.5,208.5 425.0,208.9 425.5,206.8 426.0,209.8 426.5,210.7 427.0,210.0 427.5,210.6 428.0,212.9 428.5,212.3 429.0,210.9 429.5,212.2 430.0,212.5 430.5,213.1 431.0,211.5 431.5,214.7 432.0,213.9 432.5,215.0 433.0,215.1 433.5,216.4 434.0,215.8 434.5,215.7 435.0,217.2 435.5,217.6 436.0,215.7 436.5,216.9 437.0,215.5 437.5,214.4 438.0,215.9 438.5,213.4 439.0,214.7 439.5,213.0 440.0,213.5 440.5,211.6 441.0,211.6 441.5,213.0 442.0,211.9 442.5,211.5 443.0,210.7 443.5,211.2 444.0,209.3 444.5,209.2 445.0,209.7 445.5,208.8 446.0,208.6 446.5,208.9 447.0,208.5 447.5,208.1 448.0,209.5 448.5,208.5 449.0,208.4 449.5,206.9 450.0,206.1 450.5,204.9 451.0,205.5 451.5,203.6 452.0,204.6 452.5,205.5 453.0,205.9 453.5,205.2 454.0,203.6 454.5,204.9 455.0,203.7 455.5,205.3 456.0,204.5 456.5,205.4 457.0,207.0 457.5,205.5 458.0,206.9 458.5,205.0 459.0,204.6 459.5,206.1 460.0,206.5 460.5,204.5 461.0,205.2 461.5,204.1 462.0,205.5 462.5,206.7 463.0,206.1 463.5,205.9 464.0,205.4 464.5,207.2 465.0,207.9 465.5,207.9 466.0,207.9 466.5,206.7 467.0,209.7 467.5,208.3 468.0,208.6 468.5,209.8 469.0,207.6 469.5,209.8 470.0,210.1 470.5,210.9 471.0,212.2 471.5,211.8 472.0,210.1 472.5,211.8 473.0,212.6 473.5,212.9 474.0,212.0 474.5,211.8 475.0,213.8 475.5,213.7 476.0,213.5 476.5,212.0 477.0,215.2 477.5,211.0 478.0,213.4 478.5,215.6 479.0,213.6 479.5,214.0 480.0,212.7 480.5,215.0 481.0,212.5 481.5,213.5 482.0,213.0 482.5,211.3 483.0,212.2 483.5,208.7 484.0,207.1 484.5,204.0 485.0,198.2 485.5,191.9 486.0,184.4 486.5,175.9 487.0,171.2 487.5,171.4 488.0,176.1 488.5,184.1 489.0,190.5 489.5,197.3 490.0,201.3 490.5,203.4 491.0,206.5 491.5,205.5 492.0,206.6 492.5,207.9 493.0,205.4 493.5,206.2 494.0,204.6 494.5,205.3 495.0,204.1 495.5,204.9 496.0,204.4 496.5,204.7 497.0,205.7 497.5,204.3 498.0,204.5 498.5,203.7 499.0,203.4 499.5,202.8 500.0,201.8 500.5,203.3 501.0,204.6 501.5,203.4 502.0,202.3 502.5,204.2 503.0,202.2 503.5,201.8 504.0,201.2 504.5,201.2 505.0,201.8 505.5,203.6 506.0,201.5 506.5,200.4 507.0,200.5 507.5,200.5 508.0,198.9 508.5,200.2 509.0,200.4 509.5,199.7 510.0,199.7 510.5,197.7 511.0,197.0 511.5,199.3 512.0,198.9 512.5,196.2 513.0,197.4 513.5,197.0 514.0,197.1 514.5,196.5 515.0,195.5 515.5,195.9 516.0,195.5 516.5,195.0 517.0,193.1 517.5,191.7 518.0,193.4 518.5,192.3 519.0,193.7 519.5,194.0 520.0,193.5 520.5,192.9 521.0,193.3 521.5,194.2 522.0,192.5 522.5,193.9 523.0,193.7 523.5,193.2 524.0,194.2 524.5,192.2 525.0,193.7 525.5,191.9 526.0,192.0 526.5,191.7 527.0,193.0 527.5,191.7 528.0,192.6 528.5,191.5 529.0,193.4 529.5,194.0 530.0,192.5 530.5,193.7 531.0,192.7 531.5,194.1 532.0,192.2 532.5,190.6 533.0,193.3 533.5,191.8 534.0,191.0 534.5,191.2 535.0,190.3 535.5,191.6 536.0,190.7 536.5,193.1 537.0,192.4 537.5,190.4 538.0,190.6 538.5,191.5 539.0,190.3 539.5,192.0 540.0,192.1 540.5,191.5 541.0,191.7 541.5,192.7 542.0,193.6 542.5,193.7 543.0,192.5 543.5,193.3 544.0,191.9 544.5,193.0 545.0,191.7 545.5,193.2 546.0,191.5 546.5,191.7 547.0,192.6 547.5,193.1 548.0,191.3 548.5,192.1 549.0,192.7 549.5,192.8 550.0,191.8 550.5,192.7 551.0,192.4 551.5,193.9 552.0,193.1 552.5,191.4 553.0,190.8 553.5,193.0 554.0,194.2 554.5,193.5 555.0,194.3 555.5,193.3 556.0,192.7 556.5,194.8 557.0,194.4 557.5,195.1 558.0,193.5 558.5,195.1 559.0,194.5 559.5,196.0 560.0,195.0 560.5,195.2 561.0,195.4 561.5,197.5 562.0,196.9 562.5,196.6 563.0,196.8 563.5,197.3 564.0,200.0 564.5,197.5 565.0,198.9 565.5,200.7 566.0,201.6 566.5,200.9 567.0,202.2 567.5,202.7 568.0,203.3 568.5,203.0 569.0,204.9 569.5,203.7 570.0,204.9 570.5,202.6 571.0,204.5 571.5,202.6 572.0,202.5 572.5,204.3 573.0,203.2 573.5,204.4 574.0,203.1 574.5,205.6 575.0,204.2 575.5,203.3 576.0,204.7 576.5,205.7 577.0,204.5 577.5,206.0 578.0,207.7 578.5,207.0 579.0,206.5 579.5,206.3 580.0,207.7 580.5,206.1 581.0,205.1 581.5,207.6 582.0,207.6 582.5,210.5 583.0,209.4 583.5,208.8 584.0,209.0 584.5,210.9 585.0,210.0 585.5,210.6 586.0,211.4 586.5,211.9 587.0,211.1 587.5,210.4 588.0,210.6 588.5,210.2 589.0,206.4 589.5,209.4 590.0,206.4 590.5,206.6 591.0,204.3 591.5,205.1 592.0,204.7 592.5,204.4 593.0,204.8 593.5,204.4 594.0,202.6 594.5,203.2 595.0,203.7 595.5,203.4 596.0,202.3 596.5,202.1 597.0,201.9 597.5,200.8 598.0,200.4 598.5,202.7 599.0,200.7 599.5,200.9 600.0,199.9 600.5,201.5 601.0,201.6 601.5,199.6 602.0,200.0 602.5,198.6 603.0,200.6 603.5,199.6 604.0,197.8 604.5,199.8 605.0,199.2 605.5,199.5 606.0,199.7 606.5,199.1 607.0,199.4 607.5,200.7 608.0,200.4 608.5,199.8 609.0,202.7 609.5,200.5 610.0,199.9 610.5,199.4 611.0,200.3 611.5,200.3 612.0,199.3 612.5,199.5 613.0,197.0 613.5,197.7 614.0,197.3 614.5,198.0 615.0,198.9 615.5,197.0 616.0,202.1 616.5,198.9 617.0,200.4 617.5,201.3 618.0,201.7 618.5,201.6 619.0,199.1 619.5,201.1 620.0,203.1 620.5,201.9 621.0,202.1 621.5,201.2 622.0,204.8 622.5,204.4 623.0,203.5 623.5,204.5 624.0,204.8 624.5,204.2 625.0,205.3 625.5,206.1 626.0,206.4 626.5,206.9 627.0,205.6 627.5,204.9 628.0,205.5 628.5,204.4 629.0,203.7 629.5,205.6 630.0,204.0 630.5,204.3 631.0,204.6 631.5,202.8 632.0,204.2 632.5,203.8 633.0,203.3 633.5,203.7 634.0,202.6 634.5,201.2 635.0,202.9 635.5,202.2 636.0,203.8 636.5,203.2 637.0,202.4 637.5,202.9 638.0,204.0 638.5,203.7 639.0,203.0 639.5,203.0 640.0,202.3 640.5,202.3 641.0,202.9 641.5,202.2 642.0,202.5 642.5,201.2 643.0,200.7 643.5,200.6 644.0,201.6 644.5,203.2 645.0,203.0 645.5,201.0 646.0,200.3 646.5,202.2 647.0,201.6 647.5,199.7 648.0,201.6 648.5,200.6 649.0,201.4 649.5,200.2 650.0,200.5 650.5,199.7 651.0,198.3 651.5,198.7 652.0,198.1 652.5,199.2 653.0,197.8 653.5,197.5 654.0,199.8 654.5,200.5 655.0,201.0 655.5,200.9 656.0,198.8 656.5,199.8 657.0,200.2 657.5,200.9 658.0,199.3 658.5,201.4 659.0,202.0 659.5,201.1 660.0,202.3 660.5,203.5 661.0,202.7 661.5,203.9 662.0,204.1 662.5,203.8 663.0,204.0 663.5,203.6 664.0,205.3 664.5,204.0 665.0,204.0 665.5,205.5 666.0,204.4 666.5,205.3 667.0,205.8 667.5,204.8 668.0,204.7 668.5,205.3 669.0,205.0 669.5,202.8 670.0,202.9 670.5,205.1 671.0,204.2 671.5,201.8 672.0,202.4 672.5,203.5 673.0,202.5 673.5,203.8 674.0,203.4 674.5,203.7 675.0,202.2 675.5,203.7 676.0,204.9 676.5,202.4 677.0,204.2 677.5,203.9 678.0,203.6 678.5,202.9 679.0,201.9 679.5,202.1 680.0,203.5 680.5,203.7 681.0,203.8 681.5,203.6 682.0,203.5 682.5,202.2 683.0,201.6 683.5,202.9 684.0,203.2 684.5,202.9 685.0,201.5 685.5,202.5 686.0,201.7 686.5,203.2 687.0,202.2 687.5,203.1 688.0,203.6 688.5,203.4 689.0,204.6 689.5,202.5 690.0,201.7 690.5,204.7 691.0,205.3 691.5,205.5 692.0,204.7 692.5,205.1 693.0,204.9 693.5,203.8 694.0,204.7 694.5,205.8 695.0,205.0 695.5,207.5 696.0,204.5 696.5,205.7 697.0,207.2 697.5,205.8 698.0,205.4 698.5,205.3 699.0,206.0 699.5,208.2 700.0,207.3 700.5,207.6 701.0,206.7 701.5,208.1 702.0,207.6 702.5,206.8 703.0,207.5 703.5,208.5 704.0,209.7 704.5,209.0 705.0,209.9 705.5,211.6 706.0,209.4 706.5,209.4 707.0,211.8 707.5,211.7 708.0,211.6 708.5,212.3 709.0,212.1 709.5,213.1 710.0,212.3 710.5,213.4 711.0,211.6 711.5,211.9 712.0,212.7 712.5,212.2 713.0,213.3 713.5,212.6 714.0,212.1 714.5,212.8 715.0,212.0 715.5,211.0 716.0,211.3 716.5,211.5 717.0,211.8 717.5,212.2 718.0,212.8 718.5,212.4 719.0,213.4 719.5,213.2 720.0,212.2 720.5,214.1 721.0,213.9 721.5,212.7 722.0,213.6 722.5,214.6 723.0,214.1 723.5,215.0 724.0,214.7 724.5,215.2 725.0,214.4 725.5,215.2 726.0,214.8 726.5,215.9 727.0,213.9 727.5,215.9 728.0,217.0 728.5,216.5 729.0,216.2 729.5,216.9 730.0,215.8 730.5,216.0 731.0,216.6 731.5,216.8 732.0,217.9 732.5,216.3 733.0,218.0 733.5,215.8 734.0,216.5 734.5,217.3 735.0,218.4 735.5,216.9 736.0,215.5 736.5,217.9 737.0,217.6 737.5,216.8 738.0,217.4 738.5,218.3 739.0,219.6 739.5,220.7 740.0,219.4 740.5,223.4 741.0,221.9 741.5,222.1 742.0,223.7 742.5,223.7 743.0,225.9 743.5,225.1 744.0,224.0 744.5,224.2 745.0,224.4 745.5,224.8 746.0,225.9 746.5,225.0 747.0,227.3 747.5,226.0 748.0,226.2 748.5,227.4 749.0,225.0 749.5,226.4 750.0,228.3 750.5,228.2 751.0,228.7 751.5,229.6 752.0,229.2 752.5,230.1 753.0,229.5 753.5,229.5 754.0,232.9 754.5,231.1 755.0,231.3 755.5,233.3 756.0,233.0 756.5,231.7 757.0,231.7 757.5,232.2 758.0,231.5 758.5,232.9 759.0,232.6 759.5,232.7 760.0,233.3 760.5,233.3 761.0,234.5 761.5,234.6 762.0,232.1 762.5,234.8 763.0,233.4 763.5,233.5 764.0,235.8 764.5,234.9 765.0,235.6 765.5,237.3 766.0,236.1 766.5,236.2 767.0,237.7 767.5,238.9 768.0,238.6 768.5,237.0 769.0,238.1 769.5,238.9 770.0,241.1 770.5,240.4 771.0,240.7 771.5,241.3 772.0,240.3 772.5,241.3 773.0,241.6 773.5,240.6 774.0,241.8 774.5,242.5 775.0,241.2 775.5,243.0 776.0,243.2 776.5,243.6 777.0,242.1 777.5,243.1 778.0,244.5 778.5,244.0 779.0,242.8 779.5,243.6 780.0,244.5 780.5,243.0 781.0,243.2 781.5,245.0 782.0,242.5 782.5,242.3 783.0,241.3 783.5,241.4 784.0,243.2 784.5,242.7 785.0,243.0 785.5,244.5 786.0,246.5 786.5,248.4 787.0,248.3 787.5,250.9 788.0,249.8 788.5,250.5 789.0,250.7 789.5,250.8 790.0,249.8 790.5,250.1 791.0,250.7 791.5,249.1 792.0,250.4 792.5,250.7 793.0,251.8 793.5,251.5 794.0,252.1 794.5,253.0 795.0,252.9 795.5,254.0 796.0,255.3 796.5,255.8 797.0,255.3 797.5,256.6 798.0,255.3 798.5,258.3 799.0,257.4 799.5,258.4 800.0,257.6 800.5,258.8 801.0,259.6 801.5,260.4 802.0,258.6 802.5,260.9 803.0,260.1 803.5,259.6 804.0,260.8 804.5,260.2 805.0,260.2 805.5,259.9 806.0,260.8 806.5,260.7 807.0,260.6 807.5,259.9 808.0,260.4 808.5,261.3 809.0,262.1 809.5,261.1 810.0,262.7 810.5,261.6 811.0,260.9 811.5,262.7 812.0,261.5 812.5,263.0 813.0,263.9 813.5,262.9 814.0,263.3 814.5,265.9 815.0,264.1 815.5,264.4 816.0,265.2 816.5,265.0 817.0,265.6 817.5,266.6 818.0,264.7 818.5,268.7 819.0,267.0 819.5,267.6 820.0,269.6 820.5,269.7 821.0,269.1 821.5,270.9 822.0,270.1 822.5,271.0 823.0,270.7 823.5,271.7 824.0,273.3 824.5,273.5 825.0,274.1 825.5,275.1 826.0,274.6 826.5,274.5 827.0,275.3 827.5,277.5 828.0,276.3 828.5,276.7 829.0,276.5 829.5,277.0 830.0,277.4 830.5,277.2 831.0,277.2 831.5,276.9 832.0,277.0 832.5,278.3 833.0,278.8 833.5,279.1 834.0,278.6 834.5,278.1 835.0,279.8 835.5,280.3 836.0,278.8 836.5,281.3 837.0,281.5 837.5,282.9 838.0,280.9 838.5,281.2 839.0,283.4 839.5,281.6 840.0,282.9 840.5,283.1 841.0,283.6 841.5,283.1 842.0,285.0 842.5,286.5 843.0,286.3 843.5,286.7 844.0,286.4 844.5,288.4 845.0,287.9 845.5,288.8 846.0,286.8 846.5,288.9 847.0,287.9 847.5,289.6 848.0,289.9 848.5,289.1 849.0,290.6 849.5,291.9 850.0,291.7 850.5,292.1 851.0,291.2 851.5,291.8 852.0,291.7 852.5,293.2 853.0,294.6 853.5,294.3 854.0,294.3 854.5,293.7 855.0,295.6 855.5,295.5 856.0,294.5 856.5,295.1 857.0,296.9 857.5,296.9 858.0,299.6 858.5,298.7 859.0,298.2 859.5,299.2 860.0,301.5 860.5,299.8 861.0,301.8 861.5,302.1 862.0,303.6 862.5,303.3 863.0,303.1 863.5,304.5 864.0,304.7 864.5,306.0 865.0,305.7 865.5,308.1 866.0,306.8 866.5,307.9" fill="none" stroke="#ff0000" stroke-width="7.4" stroke-linejoin="round" stroke-linecap="butt"/>
<polyline points="119.5,408.2 120.0,408.4 120.5,408.6 121.0,408.3 121.5,407.9 122.0,407.8 122.5,408.0 123.0,407.7 123.5,407.7 124.0,407.8 124.5,408.1 125.0,408.1 125.5,408.0 126.0,407.6 126.5,407.7 127.0,407.5 127.5,407.6 128.0,407.4 128.5,407.4 129.0,407.1 129.5,407.0 130.0,407.1 130.5,407.2 131.0,407.4 131.5,407.1 132.0,406.9 132.5,406.7 133.0,406.9 133.5,406.6 134.0,406.5 134.5,406.5 135.0,406.5 135.5,406.5 136.0,406.6 136.5,406.8 137.0,406.7 137.5,406.5 138.0,406.2 138.5,405.9 139.0,406.1 139.5,406.3 140.0,406.1 140.5,405.8 141.0,405.6 141.5,405.5 142.0,405.4 142.5,405.4 143.0,405.5 143.5,405.3 144.0,404.9 144.5,404.3 145.0,403.7 145.5,402.9 146.0,401.9 146.5,400.8 147.0,399.2 147.5,397.3 148.0,395.0 148.5,392.3 149.0,389.2 149.5,385.9 150.0,382.3 150.5,378.5 151.0,374.8 151.5,371.4 152.0,368.4 152.5,366.5 153.0,365.5 153.5,365.5 154.0,366.8 154.5,369.1 155.0,371.9 155.5,375.2 156.0,379.0 156.5,382.9 157.0,386.2 157.5,389.5 158.0,392.2 158.5,394.6 159.0,396.8 159.5,398.8 160.0,400.7 160.5,402.3 161.0,403.1 161.5,403.7 162.0,403.9 162.5,404.3 163.0,404.3 163.5,404.3 164.0,404.4 164.5,404.6 165.0,404.8 165.5,405.0 166.0,405.3 166.5,405.4 167.0,405.5 167.5,405.6 168.0,405.7 168.5,405.6 169.0,405.5 169.5,405.5 170.0,405.7 170.5,405.9 171.0,406.1 171.5,406.1 172.0,406.0 172.5,406.0 173.0,405.9 173.5,406.1 174.0,406.2 174.5,406.4 175.0,406.4 175.5,406.5 176.0,406.5 176.5,406.6 177.0,406.7 177.5,406.7 178.0,406.6 178.5,406.5 179.0,406.8 179.5,406.9 180.0,407.1 180.5,407.2 181.0,407.6 181.5,407.7 182.0,407.5 182.5,407.4 183.0,407.7 183.5,407.7 184.0,407.5 184.5,407.6 185.0,407.7 185.5,407.8 186.0,407.7 186.5,407.6 187.0,407.4 187.5,407.0 188.0,407.1 188.5,407.5 189.0,407.7 189.5,407.9 190.0,407.9 190.5,408.1 191.0,407.9 191.5,407.8 192.0,407.8 192.5,407.7 193.0,407.8 193.5,408.0 194.0,408.2 194.5,408.1 195.0,408.1 195.5,408.0 196.0,408.1 196.5,408.1 197.0,408.2 197.5,408.2 198.0,408.2 198.5,408.2 199.0,408.1 199.5,408.1 200.0,408.3 200.5,408.5 201.0,408.7 201.5,408.7 202.0,408.3 202.5,408.0 203.0,408.3 203.5,408.7 204.0,408.7 204.5,408.4 205.0,408.6 205.5,408.8 206.0,409.0 206.5,408.9 207.0,409.0 207.5,409.1 208.0,408.9 208.5,408.8 209.0,408.8 209.5,408.9 210.0,408.9 210.5,409.0 211.0,408.6 211.5,408.6 212.0,408.9 212.5,409.3 213.0,409.0 213.5,409.0 214.0,408.9 214.5,408.9 215.0,408.9 215.5,409.1 216.0,408.9 216.5,408.9 217.0,409.1 217.5,409.4 218.0,409.6 218.5,409.5 219.0,409.2 219.5,409.2 220.0,409.5 220.5,409.5 221.0,409.4 221.5,409.1 222.0,409.1 222.5,409.1 223.0,409.2 223.5,409.0 224.0,409.0 224.5,409.4 225.0,409.5 225.5,409.6 226.0,409.5 226.5,409.7 227.0,409.7 227.5,409.8 228.0,409.6 228.5,409.7 229.0,409.9 229.5,410.1 230.0,410.2 230.5,409.9 231.0,409.5 231.5,409.3 232.0,409.4 232.5,409.5 233.0,409.6 233.5,409.6 234.0,409.7 234.5,409.6 235.0,409.4 235.5,409.5 236.0,409.9 236.5,409.9 237.0,409.9 237.5,409.8 238.0,409.8 238.5,409.5 239.0,409.6 239.5,409.7 240.0,410.1 240.5,410.1 241.0,410.1 241.5,410.0 242.0,410.1 242.5,410.1 243.0,410.0 243.5,409.9 244.0,410.0 244.5,410.2 245.0,410.4 245.5,410.4 246.0,410.4 246.5,410.1 247.0,410.2 247.5,410.1 248.0,410.4 248.5,410.4 249.0,410.3 249.5,410.2 250.0,410.2 250.5,410.2 251.0,410.1 251.5,410.0 252.0,410.3 252.5,410.5 253.0,410.7 253.5,410.2 254.0,410.0 254.5,409.9 255.0,410.0 255.5,410.3 256.0,410.2 256.5,410.2 257.0,410.3 257.5,410.4 258.0,410.3 258.5,410.1 259.0,410.2 259.5,410.2 260.0,410.5 260.5,410.4 261.0,410.3 261.5,410.3 262.0,410.2 262.5,410.1 263.0,410.0 263.5,410.0 264.0,410.1 264.5,410.3 265.0,410.7 265.5,410.9 266.0,410.9 266.5,410.6 267.0,410.3 267.5,410.2 268.0,409.9 268.5,410.1 269.0,410.1 269.5,410.2 270.0,409.9 270.5,410.2 271.0,410.5 271.5,410.6 272.0,410.5 272.5,410.4 273.0,410.3 273.5,410.3 274.0,410.3 274.5,410.3 275.0,410.4 275.5,410.3 276.0,410.4 276.5,410.3 277.0,410.3 277.5,410.3 278.0,410.5 278.5,410.5 279.0,410.5 279.5,410.7 280.0,410.9 280.5,410.8 281.0,410.8 281.5,410.8 282.0,410.9 282.5,410.8 283.0,410.9 283.5,410.9 284.0,410.9 284.5,411.0 285.0,411.1 285.5,411.1 286.0,410.8 286.5,410.8 287.0,410.9 287.5,411.0 288.0,411.3 288.5,411.2 289.0,411.0 289.5,411.1 290.0,411.4 290.5,411.4 291.0,411.5 291.5,411.6 292.0,411.6 292.5,411.4 293.0,411.6 293.5,411.8 294.0,411.7 294.5,411.5 295.0,411.3 295.5,411.5 296.0,411.6 296.5,411.7 297.0,411.5 297.5,411.3 298.0,411.3 298.5,411.5 299.0,411.7 299.5,411.7 300.0,411.7 300.5,411.6 301.0,411.5 301.5,411.4 302.0,411.8 302.5,412.0 303.0,412.0 303.5,411.8 304.0,411.5 304.5,411.4 305.0,411.4 305.5,411.6 306.0,411.7 306.5,411.5 307.0,411.5 307.5,411.6 308.0,411.6 308.5,411.3 309.0,411.2 309.5,411.5 310.0,411.6 310.5,411.6 311.0,411.7 311.5,411.6 312.0,411.5 312.5,411.4 313.0,411.2 313.5,410.9 314.0,411.2 314.5,411.5 315.0,412.0 315.5,411.8 316.0,411.6 316.5,411.4 317.0,411.6 317.5,411.7 318.0,411.7 318.5,411.6 319.0,411.2 319.5,411.0 320.0,411.4 320.5,411.8 321.0,412.0 321.5,411.8 322.0,411.6 322.5,411.3 323.0,411.4 323.5,411.4 324.0,411.5 324.5,411.7 325.0,411.6 325.5,411.5 326.0,411.2 326.5,411.2 327.0,410.9 327.5,410.5 328.0,409.7 328.5,408.8 329.0,407.3 329.5,405.1 330.0,402.3 330.5,399.7 331.0,397.1 331.5,395.2 332.0,394.4 332.5,395.0 333.0,396.7 333.5,399.1 334.0,402.1 334.5,404.7 335.0,407.0 335.5,409.0 336.0,410.5 336.5,411.3 337.0,411.6 337.5,412.0 338.0,412.2 338.5,412.6 339.0,412.6 339.5,412.6 340.0,412.6 340.5,412.8 341.0,412.9 341.5,413.0 342.0,413.0 342.5,413.1 343.0,413.3 343.5,413.2 344.0,413.2 344.5,413.2 345.0,413.4 345.5,413.2 346.0,413.3 346.5,413.4 347.0,413.7 347.5,413.6 348.0,413.7 348.5,413.6 349.0,413.7 349.5,413.8 350.0,413.7 350.5,413.6 351.0,413.8 351.5,413.9 352.0,413.7 352.5,413.4 353.0,413.4 353.5,413.3 354.0,413.2 354.5,413.2 355.0,413.3 355.5,413.4 356.0,413.4 356.5,413.4 357.0,413.5 357.5,413.1 358.0,413.1 358.5,413.3 359.0,413.0 359.5,412.5 360.0,412.3 360.5,412.6 361.0,412.9 361.5,413.0 362.0,412.8 362.5,412.8 363.0,412.7 363.5,412.7 364.0,412.6 364.5,412.8 365.0,412.8 365.5,412.7 366.0,412.5 366.5,412.5 367.0,412.7 367.5,412.8 368.0,412.9 368.5,413.0 369.0,412.8 369.5,412.6 370.0,412.7 370.5,412.8 371.0,413.0 371.5,413.2 372.0,413.3 372.5,413.3 373.0,413.2 373.5,413.2 374.0,413.1 374.5,413.1 375.0,412.9 375.5,412.9 376.0,412.9 376.5,413.1 377.0,413.3 377.5,413.7 378.0,413.8 378.5,413.6 379.0,413.3 379.5,413.3 380.0,413.2 380.5,413.1 381.0,413.1 381.5,413.1 382.0,413.2 382.5,413.3 383.0,413.2 383.5,413.2 384.0,413.2 384.5,413.1 385.0,412.9 385.5,413.1 386.0,413.3 386.5,413.5 387.0,413.4 387.5,413.2 388.0,413.3 388.5,413.2 389.0,413.2 389.5,413.0 390.0,413.1 390.5,413.2 391.0,413.5 391.5,413.3 392.0,413.3 392.5,413.2 393.0,413.5 393.5,413.5 394.0,413.6 394.5,413.5 395.0,413.5 395.5,413.6 396.0,413.5 396.5,413.5 397.0,413.6 397.5,413.5 398.0,413.6 398.5,413.7 399.0,413.6 399.5,413.3 400.0,413.5 400.5,414.1 401.0,414.3 401.5,413.8 402.0,413.6 402.5,413.7 403.0,414.0 403.5,414.0 404.0,413.8 404.5,413.9 405.0,414.0 405.5,414.1 406.0,414.1 406.5,414.3 407.0,414.4 407.5,414.3 408.0,413.9 408.5,414.0 409.0,414.2 409.5,414.4 410.0,414.0 410.5,413.7 411.0,413.8 411.5,414.4 412.0,414.6 412.5,414.7 413.0,414.6 413.5,414.7 414.0,414.5 414.5,414.2 415.0,413.9 415.5,414.0 416.0,414.2 416.5,414.3 417.0,414.3 417.5,414.3 418.0,414.2 418.5,414.6 419.0,414.7 419.5,415.0 420.0,415.0 420.5,414.9 421.0,414.6 421.5,414.6 422.0,414.5 422.5,414.4 423.0,414.4 423.5,414.6 424.0,414.4 424.5,414.4 425.0,414.4 425.5,414.5 426.0,414.4 426.5,414.3 427.0,414.2 427.5,414.3 428.0,414.1 428.5,414.3 429.0,414.4 429.5,414.7 430.0,414.6 430.5,414.5 431.0,414.6 431.5,414.5 432.0,414.6 432.5,414.4 433.0,414.7 433.5,414.7 434.0,414.4 434.5,414.2 435.0,414.0 435.5,414.0 436.0,414.0 436.5,414.5 437.0,414.6 437.5,414.5 438.0,414.2 438.5,414.1 439.0,414.1 439.5,414.3 440.0,414.3 440.5,414.3 441.0,414.1 441.5,414.3 442.0,414.4 442.5,414.5 443.0,414.4 443.5,414.5 444.0,414.8 444.5,415.0 445.0,415.0 445.5,414.8 446.0,414.5 446.5,414.6 447.0,415.0 447.5,415.3 448.0,415.4 448.5,415.2 449.0,415.1 449.5,415.1 450.0,415.2 450.5,415.2 451.0,415.2 451.5,415.4 452.0,415.5 452.5,415.5 453.0,415.3 453.5,414.9 454.0,414.8 454.5,414.9 455.0,415.2 455.5,415.3 456.0,415.4 456.5,415.5 457.0,415.2 457.5,415.2 458.0,415.5 458.5,415.6 459.0,415.5 459.5,415.7 460.0,416.1 460.5,416.3 461.0,416.2 461.5,416.1 462.0,415.9 462.5,415.9 463.0,415.9 463.5,415.8 464.0,415.7 464.5,415.6 465.0,415.7 465.5,415.6 466.0,415.7 466.5,415.5 467.0,415.4 467.5,415.2 468.0,415.1 468.5,415.0 469.0,414.8 469.5,414.5 470.0,414.3 470.5,414.2 471.0,414.4 471.5,414.5 472.0,414.6 472.5,414.8 473.0,414.8 473.5,414.8 474.0,414.5 474.5,414.3 475.0,414.0 475.5,413.8 476.0,413.8 476.5,414.0 477.0,413.7 477.5,413.3 478.0,413.2 478.5,413.4 479.0,413.5 479.5,413.1 480.0,412.7 480.5,412.5 481.0,412.6 481.5,412.6 482.0,412.5 482.5,412.4 483.0,412.1 483.5,411.3 484.0,409.5 484.5,405.4 485.0,396.9 485.5,382.3 486.0,360.1 486.5,331.3 487.0,300.6 487.5,276.1 488.0,266.6 488.5,276.0 489.0,300.3 489.5,331.0 490.0,360.1 490.5,382.6 491.0,397.2 491.5,405.7 492.0,409.6 492.5,411.2 493.0,412.0 493.5,412.6 494.0,412.4 494.5,412.4 495.0,412.8 495.5,413.4 496.0,413.5 496.5,413.5 497.0,413.5 497.5,413.5 498.0,413.6 498.5,413.6 499.0,413.7 499.5,413.7 500.0,413.8 500.5,413.9 501.0,414.2 501.5,413.7 502.0,413.5 502.5,413.6 503.0,413.8 503.5,413.8 504.0,413.7 504.5,413.9 505.0,414.1 505.5,414.2 506.0,414.2 506.5,414.3 507.0,414.3 507.5,414.0 508.0,414.0 508.5,414.2 509.0,414.5 509.5,414.3 510.0,414.2 510.5,414.4 511.0,414.7 511.5,414.5 512.0,414.1 512.5,413.8 513.0,413.8 513.5,414.1 514.0,414.3 514.5,414.3 515.0,414.0 515.5,413.9 516.0,413.9 516.5,414.2 517.0,414.2 517.5,414.3 518.0,414.4 518.5,414.4 519.0,414.4 519.5,414.4 520.0,414.3 520.5,414.1 521.0,414.1 521.5,414.4 522.0,414.3 522.5,414.2 523.0,414.2 523.5,414.3 524.0,414.2 524.5,414.2 525.0,414.3 525.5,414.4 526.0,414.3 526.5,414.5 527.0,414.6 527.5,414.6 528.0,414.1 528.5,413.9 529.0,414.0 529.5,414.3 530.0,414.4 530.5,414.7 531.0,414.6 531.5,414.6 532.0,414.3 532.5,414.2 533.0,414.3 533.5,414.4 534.0,414.4 534.5,414.2 535.0,414.2 535.5,414.3 536.0,414.4 536.5,414.2 537.0,414.1 537.5,414.0 538.0,414.1 538.5,414.1 539.0,414.2 539.5,414.0 540.0,414.1 540.5,414.3 541.0,414.8 541.5,414.9 542.0,414.7 542.5,414.3 543.0,414.0 543.5,414.3 544.0,414.3 544.5,414.2 545.0,414.2 545.5,414.2 546.0,414.2 546.5,414.2 547.0,414.3 547.5,414.3 548.0,414.2 548.5,414.0 549.0,413.8 549.5,413.8 550.0,414.0 550.5,414.0 551.0,414.1 551.5,414.2 552.0,414.2 552.5,414.1 553.0,414.0 553.5,413.9 554.0,413.9 554.5,414.1 555.0,414.0 555.5,413.9 556.0,413.7 556.5,413.7 557.0,413.8 557.5,414.1 558.0,414.2 558.5,414.1 559.0,414.0 559.5,413.8 560.0,413.9 560.5,413.9 561.0,413.9 561.5,413.9 562.0,414.1 562.5,414.2 563.0,414.1 563.5,414.0 564.0,413.8 564.5,413.6 565.0,413.5 565.5,413.6 566.0,413.6 566.5,413.7 567.0,413.7 567.5,413.8 568.0,413.6 568.5,413.8 569.0,414.0 569.5,414.1 570.0,414.2 570.5,414.5 571.0,414.3 571.5,414.1 572.0,413.8 572.5,413.7 573.0,413.5 573.5,413.8 574.0,414.0 574.5,413.9 575.0,414.0 575.5,414.1 576.0,414.1 576.5,414.2 577.0,414.2 577.5,414.1 578.0,413.7 578.5,413.6 579.0,413.7 579.5,414.0 580.0,414.2 580.5,414.2 581.0,413.9 581.5,413.8 582.0,413.9 582.5,413.9 583.0,413.6 583.5,413.6 584.0,413.8 584.5,414.0 585.0,413.9 585.5,414.0 586.0,413.8 586.5,413.8 587.0,413.8 587.5,414.2 588.0,414.0 588.5,413.9 589.0,413.9 589.5,414.2 590.0,413.9 590.5,413.9 591.0,413.7 591.5,413.7 592.0,413.5 592.5,413.5 593.0,413.5 593.5,413.7 594.0,413.6 594.5,413.6 595.0,413.8 595.5,414.0 596.0,414.0 596.5,413.9 597.0,413.8 597.5,413.6 598.0,413.6 598.5,413.7 599.0,414.0 599.5,414.3 600.0,414.1 600.5,413.8 601.0,413.4 601.5,413.2 602.0,413.3 602.5,413.7 603.0,413.7 603.5,413.4 604.0,413.7 604.5,414.1 605.0,414.1 605.5,413.8 606.0,413.6 606.5,413.4 607.0,413.2 607.5,413.4 608.0,413.5 608.5,413.7 609.0,413.9 609.5,414.1 610.0,414.0 610.5,413.8 611.0,413.5 611.5,413.6 612.0,413.9 612.5,414.1 613.0,413.8 613.5,413.5 614.0,413.4 614.5,413.3 615.0,413.4 615.5,413.2 616.0,413.5 616.5,413.6 617.0,413.8 617.5,413.5 618.0,413.4 618.5,413.2 619.0,413.4 619.5,413.4 620.0,413.4 620.5,413.2 621.0,413.1 621.5,413.2 622.0,413.5 622.5,413.8 623.0,413.7 623.5,413.7 624.0,413.7 624.5,414.0 625.0,414.0 625.5,413.8 626.0,413.4 626.5,413.3 627.0,413.3 627.5,413.3 628.0,413.5 628.5,413.6 629.0,413.7 629.5,413.6 630.0,413.4 630.5,413.3 631.0,412.9 631.5,412.9 632.0,412.9 632.5,413.6 633.0,413.6 633.5,413.5 634.0,413.2 634.5,413.2 635.0,413.1 635.5,413.2 636.0,413.2 636.5,412.9 637.0,412.8 637.5,412.9 638.0,413.2 638.5,413.3 639.0,413.5 639.5,413.4 640.0,413.6 640.5,413.7 641.0,413.9 641.5,413.8 642.0,413.5 642.5,413.1 643.0,413.0 643.5,413.3 644.0,413.4 644.5,413.7 645.0,413.8 645.5,413.8 646.0,413.6 646.5,413.4 647.0,413.4 647.5,413.6 648.0,413.9 648.5,413.6 649.0,413.5 649.5,413.4 650.0,413.7 650.5,413.6 651.0,413.6 651.5,413.7 652.0,413.8 652.5,413.6 653.0,413.6 653.5,413.7 654.0,413.9 654.5,413.9 655.0,414.0 655.5,413.9 656.0,413.5 656.5,413.3 657.0,413.4 657.5,413.7 658.0,413.6 658.5,413.8 659.0,413.8 659.5,413.9 660.0,413.9 660.5,413.9 661.0,413.8 661.5,413.7 662.0,413.6 662.5,413.7 663.0,413.7 663.5,413.5 664.0,413.3 664.5,413.5 665.0,413.7 665.5,413.7 666.0,413.6 666.5,413.4 667.0,413.4 667.5,413.8 668.0,414.0 668.5,413.6 669.0,413.5 669.5,413.6 670.0,413.3 670.5,413.0 671.0,413.0 671.5,413.3 672.0,413.7 672.5,414.1 673.0,414.2 673.5,413.9 674.0,414.0 674.5,413.9 675.0,413.9 675.5,413.7 676.0,413.9 676.5,413.9 677.0,413.9 677.5,413.9 678.0,414.0 678.5,414.3 679.0,414.2 679.5,414.1 680.0,413.8 680.5,413.9 681.0,413.9 681.5,413.9 682.0,414.0 682.5,414.2 683.0,414.2 683.5,414.1 684.0,414.0 684.5,414.1 685.0,414.0 685.5,413.7 686.0,413.7 686.5,413.8 687.0,414.2 687.5,414.2 688.0,414.6 688.5,414.7 689.0,414.6 689.5,414.3 690.0,414.0 690.5,413.9 691.0,413.8 691.5,414.0 692.0,413.7 692.5,413.4 693.0,413.5 693.5,413.9 694.0,414.1 694.5,413.9 695.0,413.9 695.5,413.8 696.0,414.0 696.5,414.1 697.0,414.2 697.5,414.0 698.0,413.8 698.5,413.6 699.0,413.7 699.5,413.8 700.0,413.8 700.5,413.8 701.0,414.1 701.5,414.3 702.0,414.5 702.5,414.3 703.0,414.1 703.5,414.2 704.0,414.4 704.5,414.3 705.0,414.0 705.5,414.1 706.0,414.2 706.5,414.4 707.0,414.3 707.5,414.5 708.0,414.5 708.5,414.3 709.0,414.0 709.5,414.1 710.0,414.5 710.5,414.4 711.0,414.2 711.5,414.0 712.0,414.1 712.5,413.9 713.0,413.9 713.5,414.3 714.0,414.5 714.5,414.2 715.0,414.0 715.5,414.0 716.0,414.2 716.5,414.2 717.0,414.4 717.5,414.2 718.0,414.0 718.5,413.7 719.0,413.7 719.5,414.0 720.0,414.4 720.5,414.6 721.0,414.5 721.5,414.2 722.0,414.2 722.5,414.1 723.0,414.5 723.5,414.8 724.0,415.0 724.5,414.8 725.0,414.6 725.5,414.5 726.0,414.2 726.5,414.0 727.0,414.2 727.5,414.5 728.0,414.6 728.5,414.7 729.0,414.6 729.5,414.4 730.0,414.2 730.5,414.3 731.0,414.3 731.5,414.4 732.0,414.4 732.5,414.4 733.0,414.3 733.5,414.4 734.0,414.5 734.5,414.6 735.0,414.8 735.5,414.7 736.0,414.6 736.5,414.4 737.0,414.5 737.5,414.7 738.0,415.0 738.5,415.0 739.0,414.9 739.5,415.0 740.0,414.8 740.5,414.6 741.0,414.7 741.5,414.8 742.0,414.7 742.5,414.6 743.0,414.7 743.5,414.9 744.0,414.9 744.5,414.9 745.0,415.1 745.5,415.4 746.0,415.1 746.5,414.6 747.0,414.3 747.5,414.5 748.0,414.5 748.5,414.6 749.0,414.9 749.5,415.4 750.0,415.2 750.5,414.9 751.0,414.7 751.5,414.7 752.0,414.9 752.5,414.9 753.0,414.8 753.5,414.6 754.0,414.8 754.5,415.2 755.0,415.4 755.5,415.3 756.0,414.8 756.5,414.6 757.0,414.9 757.5,415.4 758.0,415.1 758.5,414.8 759.0,414.7 759.5,415.3 760.0,415.6 760.5,415.4 761.0,415.3 761.5,415.1 762.0,414.9 762.5,414.7 763.0,414.8 763.5,415.1 764.0,415.3 764.5,415.1 765.0,414.9 765.5,414.9 766.0,415.0 766.5,414.9 767.0,414.9 767.5,415.1 768.0,415.0 768.5,414.9 769.0,414.7 769.5,414.9 770.0,415.0 770.5,415.0 771.0,415.1 771.5,415.2 772.0,415.1 772.5,415.2 773.0,415.5 773.5,415.7 774.0,415.4 774.5,415.4 775.0,415.4 775.5,415.3 776.0,415.1 776.5,415.5 777.0,415.8 777.5,415.8 778.0,415.9 778.5,416.0 779.0,415.9 779.5,415.7 780.0,415.8 780.5,415.9 781.0,415.9 781.5,416.0 782.0,416.0 782.5,416.1 783.0,416.2 783.5,416.2 784.0,416.1 784.5,416.1 785.0,416.1 785.5,416.2 786.0,416.1 786.5,416.1 787.0,416.3 787.5,416.6 788.0,416.5 788.5,416.4 789.0,416.5 789.5,416.6 790.0,416.5 790.5,416.5 791.0,416.6 791.5,416.6 792.0,416.6 792.5,416.4 793.0,416.4 793.5,416.4 794.0,416.7 794.5,416.8 795.0,417.0 795.5,416.9 796.0,416.9 796.5,417.0 797.0,417.0 797.5,416.9 798.0,417.0 798.5,417.3 799.0,417.5 799.5,417.5 800.0,417.3 800.5,417.3 801.0,417.3 801.5,417.2 802.0,417.2 802.5,417.3 803.0,417.1 803.5,417.1 804.0,417.3 804.5,417.6 805.0,417.7 805.5,417.6 806.0,417.5 806.5,417.4 807.0,417.5 807.5,417.6 808.0,417.8 808.5,417.9 809.0,417.9 809.5,418.0 810.0,418.2 810.5,418.0 811.0,417.8 811.5,417.8 812.0,418.0 812.5,417.7 813.0,417.6 813.5,417.7 814.0,418.1 814.5,418.2 815.0,418.1 815.5,417.8 816.0,417.8 816.5,417.8 817.0,417.7 817.5,417.8 818.0,417.9 818.5,417.9 819.0,417.6 819.5,417.5 820.0,417.3 820.5,417.4 821.0,417.4 821.5,417.6 822.0,417.7 822.5,417.6 823.0,417.5 823.5,417.5 824.0,417.7 824.5,417.5 825.0,417.3 825.5,417.3 826.0,417.5 826.5,417.5 827.0,417.2 827.5,417.2 828.0,417.2 828.5,417.3 829.0,417.0 829.5,417.0 830.0,417.1 830.5,417.2 831.0,417.1 831.5,416.9 832.0,417.1 832.5,417.3 833.0,417.4 833.5,417.0 834.0,416.8 834.5,416.6 835.0,416.7 835.5,416.7 836.0,416.9 836.5,417.1 837.0,417.4 837.5,417.4 838.0,417.2 838.5,417.1 839.0,417.2 839.5,417.2 840.0,416.9 840.5,416.8 841.0,416.8 841.5,416.7 842.0,417.0 842.5,417.1 843.0,417.3 843.5,417.1 844.0,417.3 844.5,417.4 845.0,417.6 845.5,417.3 846.0,417.3 846.5,417.2 847.0,417.4 847.5,417.6 848.0,417.7 848.5,417.6 849.0,417.5 849.5,417.5 850.0,417.5 850.5,417.5 851.0,417.4 851.5,417.4 852.0,417.5 852.5,417.6 853.0,417.8 853.5,417.9 854.0,417.8 854.5,417.4 855.0,417.3 855.5,417.5 856.0,417.7 856.5,417.9 857.0,418.1 857.5,418.1 858.0,418.0 858.5,418.1 859.0,418.2 859.5,418.4 860.0,418.5 860.5,418.6 861.0,418.4 861.5,418.4 862.0,418.4 862.5,418.4 863.0,418.4 863.5,418.4 864.0,418.3 864.5,418.3 865.0,418.4 865.5,418.5 866.0,418.6 866.5,418.6" fill="none" stroke="#00f01e" stroke-width="6.3" stroke-linejoin="round" stroke-linecap="butt"/>
</g>
<line x1="118" y1="158.5" x2="867.2" y2="158.5" stroke="#333" stroke-width="1.2"/>
<line x1="866.7" y1="158" x2="866.7" y2="760" stroke="#222" stroke-width="1.1"/>
<line x1="119" y1="158" x2="119" y2="760" stroke="#686868" stroke-width="2.1"/>
<line x1="118" y1="759" x2="868" y2="759" stroke="#000" stroke-width="2.1"/>
<line x1="242.9" y1="758" x2="242.9" y2="771" stroke="#000" stroke-width="1.8"/>
<line x1="451.0" y1="758" x2="451.0" y2="771" stroke="#000" stroke-width="1.8"/>
<line x1="659.0" y1="758" x2="659.0" y2="771" stroke="#000" stroke-width="1.8"/>
<line x1="867.1" y1="758" x2="867.1" y2="771" stroke="#000" stroke-width="1.8"/>
<line x1="138.9" y1="758" x2="138.9" y2="765" stroke="#000" stroke-width="1.6"/>
<line x1="346.9" y1="758" x2="346.9" y2="765" stroke="#000" stroke-width="1.6"/>
<line x1="555.0" y1="758" x2="555.0" y2="765" stroke="#000" stroke-width="1.6"/>
<line x1="763.1" y1="758" x2="763.1" y2="765" stroke="#000" stroke-width="1.6"/>
<text x="0" y="0" font-family="Liberation Sans, sans-serif" font-size="31" transform="translate(217.9 804.4) scale(0.95 1)">500</text>
<text x="0" y="0" font-family="Liberation Sans, sans-serif" font-size="31" transform="translate(417.3 804.4) scale(0.95 1)">1000</text>
<text x="0" y="0" font-family="Liberation Sans, sans-serif" font-size="31" transform="translate(626.7 804.4) scale(0.95 1)">1500</text>
<text x="0" y="0" font-family="Liberation Sans, sans-serif" font-size="31" transform="translate(832.5 804.4) scale(0.95 1)">2000</text>
<text x="0" y="0" font-family="Liberation Sans, sans-serif" font-size="32.5" transform="translate(361.3 868.5) scale(0.985 1.06)">Raman shift (cm<tspan dx="1.5" dy="-16.5" font-size="19">-</tspan><tspan dx="1" font-size="19">1</tspan><tspan dx="0.5" dy="16.5">)</tspan></text>
<text x="0" y="0" font-family="Liberation Sans, sans-serif" font-size="35" transform="translate(50.8 694.3) rotate(-90)">Raman intensity (arb. units)</text>
<text x="0" y="0" font-family="Liberation Sans, sans-serif" font-size="50" transform="translate(426.5 64.3) scale(0.826 1)">calcite</text>
<text x="0" y="0" font-family="Liberation Sans, sans-serif" font-size="49" transform="translate(108.6 113.4) scale(0.85 1)">TiO2</text>
<rect x="149.3" y="148.2" width="5.6" height="154" fill="#000"/>
<polygon points="143.4,301.3 160.9,301.3 152.1,318.7" fill="#000"/>
<rect x="483" y="68" width="6.2" height="69" fill="#000"/>
<polygon points="477.3,136 494.8,136 486.1,153.6" fill="#000"/>
<line x1="594.5" y1="519.5" x2="661.7" y2="519.5" stroke="#000" stroke-width="6.5" stroke-linecap="round"/>
<g transform="translate(0 0.0)" fill="none" stroke="#000"><path d="M672.3 513.4 C673.4 511.3 675.7 511.2 676.8 514.2 L680.6 525.3 C681.4 527.9 682.6 528.5 684 527.2" stroke-width="1.7"/><path d="M677.6 518.2 L671.4 528.9" stroke-width="1.9"/></g>
<text x="0" y="0" font-family="Liberation Sans, sans-serif" font-size="18.5" transform="translate(684.6 540.9) scale(0.87 1)">exc</text>
<text x="708.5" y="529.3" font-family="Liberation Sans, sans-serif" font-size="26.6" letter-spacing="0.45">= 266 nm</text>
<line x1="594.5" y1="559.3" x2="661.7" y2="559.3" stroke="#0a3cf0" stroke-width="6.5" stroke-linecap="round"/>
<g transform="translate(0 39.8)" fill="none" stroke="#000"><path d="M672.3 513.4 C673.4 511.3 675.7 511.2 676.8 514.2 L680.6 525.3 C681.4 527.9 682.6 528.5 684 527.2" stroke-width="1.7"/><path d="M677.6 518.2 L671.4 528.9" stroke-width="1.9"/></g>
<text x="0" y="0" font-family="Liberation Sans, sans-serif" font-size="18.5" transform="translate(684.6 580.7) scale(0.87 1)">exc</text>
<text x="708.5" y="569.1" font-family="Liberation Sans, sans-serif" font-size="26.6" letter-spacing="0.45">= 364 nm</text>
<line x1="594.5" y1="599.1" x2="661.7" y2="599.1" stroke="#ff0000" stroke-width="6.5" stroke-linecap="round"/>
<g transform="translate(0 79.6)" fill="none" stroke="#000"><path d="M672.3 513.4 C673.4 511.3 675.7 511.2 676.8 514.2 L680.6 525.3 C681.4 527.9 682.6 528.5 684 527.2" stroke-width="1.7"/><path d="M677.6 518.2 L671.4 528.9" stroke-width="1.9"/></g>
<text x="0" y="0" font-family="Liberation Sans, sans-serif" font-size="18.5" transform="translate(684.6 620.5) scale(0.87 1)">exc</text>
<text x="708.5" y="608.9" font-family="Liberation Sans, sans-serif" font-size="26.6" letter-spacing="0.45">= 633 nm</text>
<line x1="594.5" y1="638.9" x2="661.7" y2="638.9" stroke="#00f01e" stroke-width="6.5" stroke-linecap="round"/>
<g transform="translate(0 119.4)" fill="none" stroke="#000"><path d="M672.3 513.4 C673.4 511.3 675.7 511.2 676.8 514.2 L680.6 525.3 C681.4 527.9 682.6 528.5 684 527.2" stroke-width="1.7"/><path d="M677.6 518.2 L671.4 528.9" stroke-width="1.9"/></g>
<text x="0" y="0" font-family="Liberation Sans, sans-serif" font-size="18.5" transform="translate(684.6 660.3) scale(0.87 1)">exc</text>
<text x="708.5" y="648.7" font-family="Liberation Sans, sans-serif" font-size="26.6" letter-spacing="0.45">= 1064 nm</text>
</svg>
</body></html>
